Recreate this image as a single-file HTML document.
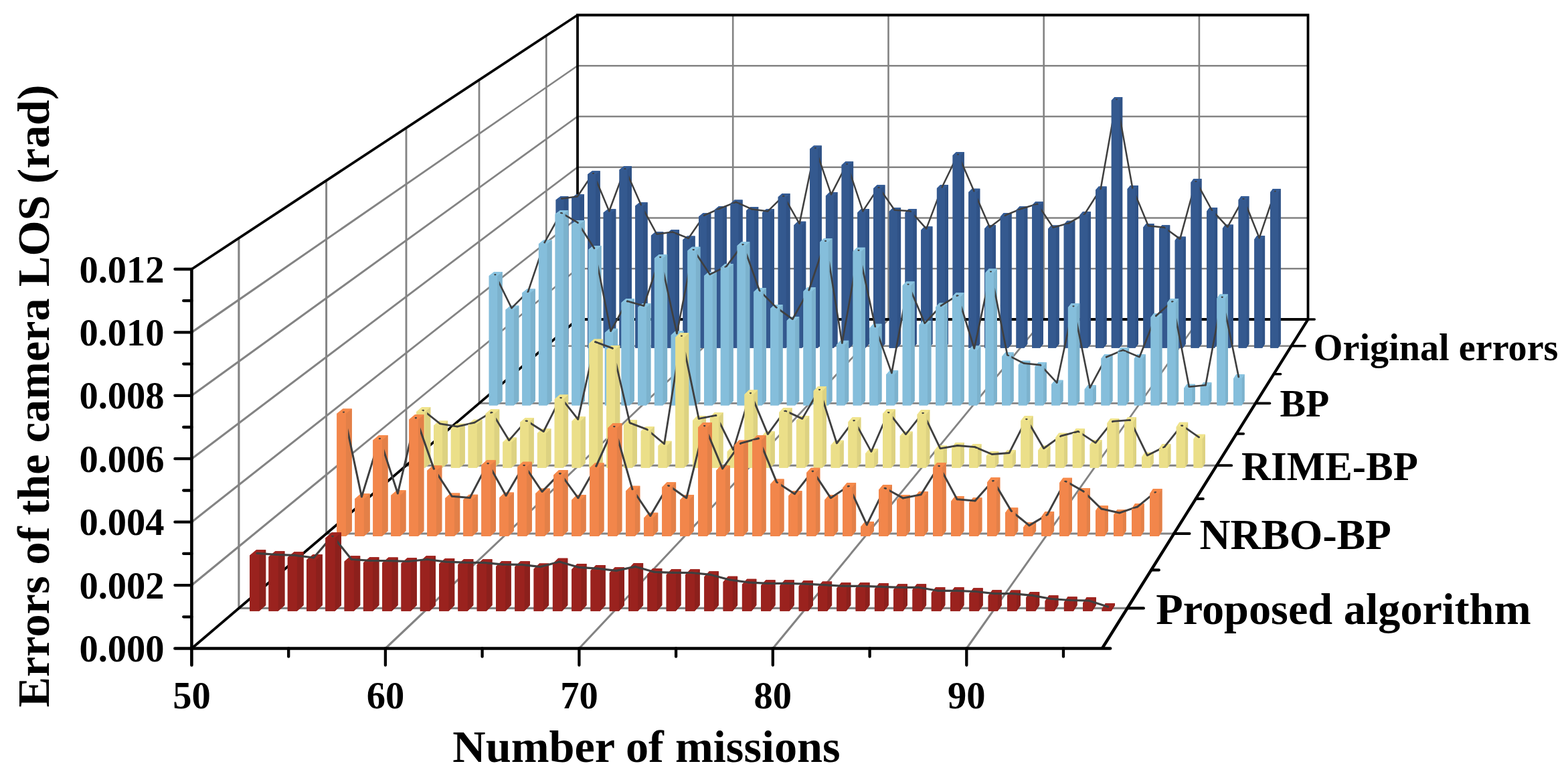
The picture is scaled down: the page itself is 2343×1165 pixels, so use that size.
<!DOCTYPE html>
<html lang="en">
<head>
<meta charset="utf-8">
<title>Errors of the camera LOS</title>
<style>html,body{margin:0;padding:0;background:#fff}body{width:2343px;height:1165px;overflow:hidden}svg{display:block}</style>
</head>
<body>
<svg width="2343" height="1165" viewBox="0 0 2343 1165" role="img" aria-label="3D bar chart: errors of the camera LOS versus number of missions">
<rect width="2343" height="1165" fill="#fff"/>
<path d="M863,98.2L1954.5,98.2M863,174L1954.5,174M863,249.7L1954.5,249.7M863,325.5L1954.5,325.5M863,401.2L1954.5,401.2M1095.2,22.5L1095.2,477M1327.5,22.5L1327.5,477M1559.7,22.5L1559.7,477M1791.9,22.5L1791.9,477" fill="none" stroke="#838383" stroke-width="2.6"/>
<path d="M285.5,495.1L862.3,97.2L863.7,99.3L287.4,497.7zM285.5,589.5L862.2,173L863.8,175L287.4,592.1zM285.5,684L862.2,248.7L863.8,250.8L287.4,686.5zM285.5,778.4L862.2,324.5L863.8,326.5L287.4,780.9zM285.4,872.8L862.2,400.3L863.8,402.2L287.5,875.3zM574.8,967.3L1094.4,476.1L1096.1,477.9L577,969.7zM864.2,967.4L1326.5,476.1L1328.4,477.9L866.5,969.6zM1153.6,967.5L1558.7,476.2L1560.7,477.8L1156.1,969.5zM1443,967.6L1790.9,476.3L1793,477.7L1445.6,969.4z" fill="#838383"/>
<path d="M816.3,53.2L816.3,516.8L1929.6,516.8" fill="none" stroke="#838383" stroke-width="2.62"/>
<path d="M716,119.2L716,602.3L1876.1,602.3" fill="none" stroke="#838383" stroke-width="2.73"/>
<path d="M607,191L607,695.2L1817.9,695.2" fill="none" stroke="#838383" stroke-width="2.85"/>
<path d="M487.6,269.6L487.6,797L1754.2,797" fill="none" stroke="#838383" stroke-width="2.98"/>
<path d="M356.9,355.6L356.9,908.4L1684.5,908.4" fill="none" stroke="#838383" stroke-width="3.12"/>
<path d="M863,477V22.5H1954.5V477M863,477H1954.5" fill="none" stroke="#000" stroke-width="3.8" stroke-linejoin="miter" stroke-linecap="square"/>
<path d="M285.4,400.4L862,20.9L864,24.1L287.5,403.6zM285.2,967L861.8,475.6L864.2,478.4L287.7,970z" fill="#000"/>
<path d="M830.6,519.8L842.4,519.8L849.4,513.8L849.4,293.3L837.6,293.3L830.6,298.6zM854.3,519.8L866.2,519.8L873,513.8L873,290.2L861.2,290.2L854.3,295.5zM878,519.8L889.9,519.8L896.7,513.8L896.7,255.2L884.9,255.2L878,260.4zM901.7,519.8L913.6,519.8L920.3,513.8L920.3,312.2L908.5,312.2L901.7,317.6zM925.5,519.8L937.3,519.8L944,513.8L944,248.3L932.2,248.3L925.5,253.5zM949.2,519.8L961.1,519.8L967.6,513.8L967.6,302.2L955.8,302.2L949.2,307.6zM972.9,519.8L984.8,519.8L991.3,513.8L991.3,346.2L979.5,346.2L972.9,351.7zM996.6,519.8L1008.5,519.8L1015,513.8L1015,343.1L1003.1,343.1L996.6,348.6zM1020.4,519.8L1032.2,519.8L1038.6,513.8L1038.6,352.5L1026.8,352.5L1020.4,358zM1044.1,519.8L1055.9,519.8L1062.3,513.8L1062.3,318.2L1050.4,318.2L1044.1,323.6zM1067.8,519.8L1079.7,519.8L1085.9,513.8L1085.9,307.9L1074.1,307.9L1067.8,313.3zM1091.5,519.8L1103.4,519.8L1109.6,513.8L1109.6,298.5L1097.7,298.5L1091.5,303.9zM1115.2,519.8L1127.1,519.8L1133.2,513.8L1133.2,309.1L1121.4,309.1L1115.2,314.5zM1139,519.8L1150.8,519.8L1156.9,513.8L1156.9,312.2L1145,312.2L1139,317.6zM1162.7,519.8L1174.5,519.8L1180.5,513.8L1180.5,289L1168.7,289L1162.7,294.3zM1186.4,519.8L1198.3,519.8L1204.2,513.8L1204.2,330.7L1192.3,330.7L1186.4,336.2zM1210.1,519.8L1222,519.8L1227.8,513.8L1227.8,217.5L1216,217.5L1210.1,222.6zM1233.9,519.8L1245.7,519.8L1251.5,513.8L1251.5,287.1L1239.6,287.1L1233.9,292.4zM1257.6,519.8L1269.4,519.8L1275.1,513.8L1275.1,241.2L1263.3,241.2L1257.6,246.4zM1281.3,519.8L1293.2,519.8L1298.8,513.8L1298.8,312L1286.9,312L1281.3,317.4zM1305,519.8L1316.9,519.8L1322.4,513.8L1322.4,276.3L1310.6,276.3L1305,281.6zM1328.7,519.8L1340.6,519.8L1346.1,513.8L1346.1,310.3L1334.3,310.3L1328.7,315.7zM1352.5,519.8L1364.3,519.8L1369.7,513.8L1369.7,312L1357.9,312L1352.5,317.4zM1376.2,519.8L1388,519.8L1393.4,513.8L1393.4,338.2L1381.6,338.2L1376.2,343.7zM1399.9,519.8L1411.8,519.8L1417,513.8L1417,276L1405.2,276L1399.9,281.3zM1423.6,519.8L1435.5,519.8L1440.7,513.8L1440.7,227L1428.9,227L1423.6,232.1zM1447.3,519.8L1459.2,519.8L1464.3,513.8L1464.3,281.8L1452.5,281.8L1447.3,287.1zM1471.1,519.8L1482.9,519.8L1488,513.8L1488,336L1476.2,336L1471.1,341.5zM1494.8,519.8L1506.7,519.8L1511.6,513.8L1511.6,318.1L1499.8,318.1L1494.8,323.5zM1518.5,519.8L1530.4,519.8L1535.3,513.8L1535.3,308.3L1523.5,308.3L1518.5,313.7zM1542.2,519.8L1554.1,519.8L1558.9,513.8L1558.9,301.2L1547.1,301.2L1542.2,306.6zM1566,519.8L1577.8,519.8L1582.6,513.8L1582.6,336.5L1570.8,336.5L1566,342zM1589.7,519.8L1601.5,519.8L1606.3,513.8L1606.3,329.8L1594.4,329.8L1589.7,335.3zM1613.4,519.8L1625.3,519.8L1629.9,513.8L1629.9,315.9L1618.1,315.9L1613.4,321.3zM1637.1,519.8L1649,519.8L1653.6,513.8L1653.6,278.5L1641.7,278.5L1637.1,283.8zM1660.8,519.8L1672.7,519.8L1677.2,513.8L1677.2,145L1665.4,145L1660.8,149.9zM1684.6,519.8L1696.4,519.8L1700.9,513.8L1700.9,277L1689,277L1684.6,282.3zM1708.3,519.8L1720.1,519.8L1724.5,513.8L1724.5,333.9L1712.7,333.9L1708.3,339.4zM1732,519.8L1743.9,519.8L1748.2,513.8L1748.2,336.3L1736.3,336.3L1732,341.8zM1755.7,519.8L1767.6,519.8L1771.8,513.8L1771.8,353.4L1760,353.4L1755.7,358.9zM1779.5,519.8L1791.3,519.8L1795.5,513.8L1795.5,267.1L1783.6,267.1L1779.5,272.4zM1803.2,519.8L1815,519.8L1819.1,513.8L1819.1,310.1L1807.3,310.1L1803.2,315.5zM1826.9,519.8L1838.8,519.8L1842.8,513.8L1842.8,335.6L1830.9,335.6L1826.9,341.1zM1850.6,519.8L1862.5,519.8L1866.4,513.8L1866.4,293.1L1854.6,293.1L1850.6,298.4zM1874.3,519.8L1886.2,519.8L1890.1,513.8L1890.1,352L1878.2,352L1874.3,357.5zM1898.1,519.8L1909.9,519.8L1913.7,513.8L1913.7,281.9L1901.9,281.9L1898.1,287.2z" fill="#34598f"/>
<path d="M842.4,519.8L849.4,513.8V293.3L842.4,298.6zM866.2,519.8L873,513.8V290.2L866.2,295.5zM889.9,519.8L896.7,513.8V255.2L889.9,260.4zM913.6,519.8L920.3,513.8V312.2L913.6,317.6zM937.3,519.8L944,513.8V248.3L937.3,253.5zM961.1,519.8L967.6,513.8V302.2L961.1,307.6zM984.8,519.8L991.3,513.8V346.2L984.8,351.7zM1008.5,519.8L1015,513.8V343.1L1008.5,348.6zM1032.2,519.8L1038.6,513.8V352.5L1032.2,358zM1055.9,519.8L1062.3,513.8V318.2L1055.9,323.6zM1079.7,519.8L1085.9,513.8V307.9L1079.7,313.3zM1103.4,519.8L1109.6,513.8V298.5L1103.4,303.9zM1127.1,519.8L1133.2,513.8V309.1L1127.1,314.5zM1150.8,519.8L1156.9,513.8V312.2L1150.8,317.6zM1174.5,519.8L1180.5,513.8V289L1174.5,294.3zM1198.3,519.8L1204.2,513.8V330.7L1198.3,336.2zM1222,519.8L1227.8,513.8V217.5L1222,222.6zM1245.7,519.8L1251.5,513.8V287.1L1245.7,292.4zM1269.4,519.8L1275.1,513.8V241.2L1269.4,246.4zM1293.2,519.8L1298.8,513.8V312L1293.2,317.4zM1316.9,519.8L1322.4,513.8V276.3L1316.9,281.6zM1340.6,519.8L1346.1,513.8V310.3L1340.6,315.7zM1364.3,519.8L1369.7,513.8V312L1364.3,317.4zM1388,519.8L1393.4,513.8V338.2L1388,343.7zM1411.8,519.8L1417,513.8V276L1411.8,281.3zM1435.5,519.8L1440.7,513.8V227L1435.5,232.1zM1459.2,519.8L1464.3,513.8V281.8L1459.2,287.1zM1482.9,519.8L1488,513.8V336L1482.9,341.5zM1506.7,519.8L1511.6,513.8V318.1L1506.7,323.5zM1530.4,519.8L1535.3,513.8V308.3L1530.4,313.7zM1554.1,519.8L1558.9,513.8V301.2L1554.1,306.6zM1577.8,519.8L1582.6,513.8V336.5L1577.8,342zM1601.5,519.8L1606.3,513.8V329.8L1601.5,335.3zM1625.3,519.8L1629.9,513.8V315.9L1625.3,321.3zM1649,519.8L1653.6,513.8V278.5L1649,283.8zM1672.7,519.8L1677.2,513.8V145L1672.7,149.9zM1696.4,519.8L1700.9,513.8V277L1696.4,282.3zM1720.1,519.8L1724.5,513.8V333.9L1720.1,339.4zM1743.9,519.8L1748.2,513.8V336.3L1743.9,341.8zM1767.6,519.8L1771.8,513.8V353.4L1767.6,358.9zM1791.3,519.8L1795.5,513.8V267.1L1791.3,272.4zM1815,519.8L1819.1,513.8V310.1L1815,315.5zM1838.8,519.8L1842.8,513.8V335.6L1838.8,341.1zM1862.5,519.8L1866.4,513.8V293.1L1862.5,298.4zM1886.2,519.8L1890.1,513.8V352L1886.2,357.5zM1909.9,519.8L1913.7,513.8V281.9L1909.9,287.2z" fill="#2f5286"/>
<path d="M830.6,298.6H842.4L849.4,293.3H837.6zM854.3,295.5H866.2L873,290.2H861.2zM878,260.4H889.9L896.7,255.2H884.9zM901.7,317.6H913.6L920.3,312.2H908.5zM925.5,253.5H937.3L944,248.3H932.2zM949.2,307.6H961.1L967.6,302.2H955.8zM972.9,351.7H984.8L991.3,346.2H979.5zM996.6,348.6H1008.5L1015,343.1H1003.1zM1020.4,358H1032.2L1038.6,352.5H1026.8zM1044.1,323.6H1055.9L1062.3,318.2H1050.4zM1067.8,313.3H1079.7L1085.9,307.9H1074.1zM1091.5,303.9H1103.4L1109.6,298.5H1097.7zM1115.2,314.5H1127.1L1133.2,309.1H1121.4zM1139,317.6H1150.8L1156.9,312.2H1145zM1162.7,294.3H1174.5L1180.5,289H1168.7zM1186.4,336.2H1198.3L1204.2,330.7H1192.3zM1210.1,222.6H1222L1227.8,217.5H1216zM1233.9,292.4H1245.7L1251.5,287.1H1239.6zM1257.6,246.4H1269.4L1275.1,241.2H1263.3zM1281.3,317.4H1293.2L1298.8,312H1286.9zM1305,281.6H1316.9L1322.4,276.3H1310.6zM1328.7,315.7H1340.6L1346.1,310.3H1334.3zM1352.5,317.4H1364.3L1369.7,312H1357.9zM1376.2,343.7H1388L1393.4,338.2H1381.6zM1399.9,281.3H1411.8L1417,276H1405.2zM1423.6,232.1H1435.5L1440.7,227H1428.9zM1447.3,287.1H1459.2L1464.3,281.8H1452.5zM1471.1,341.5H1482.9L1488,336H1476.2zM1494.8,323.5H1506.7L1511.6,318.1H1499.8zM1518.5,313.7H1530.4L1535.3,308.3H1523.5zM1542.2,306.6H1554.1L1558.9,301.2H1547.1zM1566,342H1577.8L1582.6,336.5H1570.8zM1589.7,335.3H1601.5L1606.3,329.8H1594.4zM1613.4,321.3H1625.3L1629.9,315.9H1618.1zM1637.1,283.8H1649L1653.6,278.5H1641.7zM1660.8,149.9H1672.7L1677.2,145H1665.4zM1684.6,282.3H1696.4L1700.9,277H1689zM1708.3,339.4H1720.1L1724.5,333.9H1712.7zM1732,341.8H1743.9L1748.2,336.3H1736.3zM1755.7,358.9H1767.6L1771.8,353.4H1760zM1779.5,272.4H1791.3L1795.5,267.1H1783.6zM1803.2,315.5H1815L1819.1,310.1H1807.3zM1826.9,341.1H1838.8L1842.8,335.6H1830.9zM1850.6,298.4H1862.5L1866.4,293.1H1854.6zM1874.3,357.5H1886.2L1890.1,352H1878.2zM1898.1,287.2H1909.9L1913.7,281.9H1901.9z" fill="#355c95"/>
<path d="M839,295.4L862.7,292.3L863,294.8L839.3,297.9zM861.8,292.8L880.6,265L880.6,269.5L863.9,294.2zM884.7,259.3L885.7,257.9L887.3,259L886.4,260.4zM887.4,258.1L888,259.5L886.2,260.2L885.6,258.8zM892.4,269.5L911.4,315.1L909.1,316L892.4,276zM909,315.1L928,264L928,271.2L911.4,316zM932.5,252.6L933,251.2L934.8,251.9L934.3,253.3zM934.8,251.2L935.4,252.6L933.6,253.4L933,252zM939.8,261.9L958.8,305L956.5,306.1L939.8,268.2zM958.5,305.1L959.2,306.5L957.5,307.4L956.7,306zM963.5,313.9L982.4,349L980.2,350.2L963.5,319.2zM981.1,348.4L1004.8,345.3L1005.2,347.8L981.5,350.9zM1005.5,345.4L1029.2,354.8L1028.2,357.1L1004.5,347.7zM1027.7,355.2L1046.5,328L1046.5,332.4L1029.7,356.7zM1050.6,322.4L1051.6,321L1053.2,322.1L1052.2,323.5zM1051.9,320.4L1075.6,310.1L1076.6,312.4L1052.9,322.7zM1075.6,310.1L1099.3,300.7L1100.2,303L1076.5,312.4zM1100.3,300.7L1124,311.3L1123,313.6L1099.3,303zM1123.6,311.2L1147.3,314.3L1147,316.8L1123.3,313.7zM1146.3,314.7L1164.9,296.4L1164.9,299.9L1148,316.5zM1168.7,293L1170.2,291.6L1171.6,293L1170.1,294.4zM1171.7,291.8L1172.5,293.2L1170.8,294.2L1170,292.8zM1176.8,300.2L1195.6,333.5L1193.5,334.7L1176.8,305.3zM1193.3,333.8L1212.3,242.9L1212.3,255.2L1195.8,334.4zM1217,221.9L1217.3,220.5L1219.2,220.9L1218.9,222.3zM1219.2,220.4L1219.7,221.8L1217.8,222.4L1217.3,221zM1224.2,234.2L1243.1,290L1240.8,290.8L1224.2,242zM1240.8,289.9L1259.7,253.2L1259.7,258.7L1243.1,291zM1264,245.4L1264.8,244L1266.5,244.9L1265.8,246.3zM1266.6,244.1L1267.1,245.5L1265.2,246.2L1264.7,244.8zM1271.6,258.2L1290.5,315L1288.2,315.8L1271.6,266.1zM1288.3,314.7L1307.1,286.3L1307.1,290.8L1290.4,316.1zM1311.3,280.5L1312.2,279.1L1313.9,280.2L1312.9,281.6zM1313.9,279L1314.8,280.4L1313.2,281.6L1312.2,280.2zM1319,285.9L1337.8,313L1335.7,314.4L1319,290.3zM1336.8,312.4L1360.5,314.1L1360.3,316.6L1336.6,314.9zM1361.2,314.7L1362.4,316.1L1361,317.4L1359.7,316zM1366.4,320.1L1385.1,340.8L1383.2,342.5L1366.4,323.8zM1383,341.2L1401.9,291.4L1401.9,298.4L1385.3,342.1zM1406.4,280.3L1406.9,278.9L1408.8,279.7L1408.2,281.1zM1406.7,278.8L1425.6,239.6L1425.6,245.4L1408.9,279.8zM1429.9,231.2L1430.6,229.8L1432.4,230.6L1431.7,232zM1432.4,229.8L1433,231.2L1431.2,232L1430.6,230.6zM1437.4,240.8L1456.4,284.6L1454.1,285.6L1437.4,247.1zM1456.1,284.7L1456.7,286.1L1454.9,286.9L1454.3,285.5zM1461.1,295.6L1480.1,338.9L1477.8,339.9L1461.1,301.8zM1478.2,338.4L1496.7,324.4L1496.7,327.5L1479.7,340.4zM1500.1,322.1L1502,320.7L1503.2,322.3L1501.4,323.7zM1502.1,320.3L1525.8,310.5L1526.8,312.8L1503.1,322.6zM1525.9,310.5L1549.6,303.4L1550.4,305.7L1526.7,312.9zM1550.8,304L1551.8,305.4L1550.1,306.5L1549.2,305.1zM1555.9,311.1L1574.7,339.2L1572.7,340.6L1555.9,315.6zM1573.3,338.7L1597,332L1597.7,334.4L1574,341.1zM1596.8,332.1L1615.2,321.3L1615.2,324.2L1598,334.3zM1618.2,319.8L1620.6,318.4L1621.6,320.1L1619.2,321.5zM1620,318.6L1638.9,288.8L1638.9,293.5L1622.1,319.9zM1643,282.7L1643.9,281.3L1645.6,282.3L1644.7,283.7zM1643.5,281.6L1662.5,174.3L1662.5,188.7L1646,282zM1667.2,149.3L1667.5,147.9L1669.5,148.2L1669.2,149.6zM1669.5,147.9L1669.7,149.3L1667.7,149.6L1667.5,148.2zM1674.4,174L1693.4,280.1L1690.9,280.5L1674.4,188.2zM1693.1,279.9L1693.7,281.3L1691.8,282.1L1691.2,280.7zM1698.1,291.3L1717,336.8L1714.7,337.8L1698.1,297.8zM1716,336.1L1739.7,338.5L1739.4,341L1715.7,338.6zM1740.1,338.9L1742.1,340.3L1740.9,341.9L1739,340.5zM1745.5,342.5L1764,355.8L1762.5,357.9L1745.5,345.5zM1762,356.5L1781,287.3L1781,296.7L1764.5,357.2zM1785.6,271.5L1786,270.1L1787.9,270.7L1787.5,272.1zM1787.8,269.9L1788.6,271.3L1786.8,272.3L1786.1,270.9zM1792.9,278.6L1811.7,312.9L1809.5,314.1L1792.9,283.8zM1811.4,312.8L1812.7,314.2L1811.2,315.5L1809.9,314.1zM1816.6,318L1835.3,338.2L1833.4,339.9L1816.6,321.7zM1833.2,338.4L1852.1,304.5L1852.1,309.7L1835.4,339.6zM1856.4,297.3L1857.2,295.9L1858.9,296.9L1858.1,298.3zM1859,296.1L1859.5,297.5L1857.7,298.2L1857.1,296.8zM1864,307.8L1882.9,355L1880.6,355.9L1864,314.5zM1880.5,355L1899.5,298.9L1899.5,306.7L1882.9,355.8zM1904,286.3L1904.5,284.9L1906.4,285.5L1905.9,286.9z" fill="#3f3f3f"/>
<path d="M837.9,296.6a1.25,1.25 0 1 0 2.50,0a1.25,1.25 0 1 0 -2.50,0zM861.6,293.5a1.25,1.25 0 1 0 2.50,0a1.25,1.25 0 1 0 -2.50,0zM909,315.6a1.25,1.25 0 1 0 2.50,0a1.25,1.25 0 1 0 -2.50,0zM956.4,305.6a1.25,1.25 0 1 0 2.50,0a1.25,1.25 0 1 0 -2.50,0zM980.1,349.6a1.25,1.25 0 1 0 2.50,0a1.25,1.25 0 1 0 -2.50,0zM1003.7,346.5a1.25,1.25 0 1 0 2.50,0a1.25,1.25 0 1 0 -2.50,0zM1027.4,355.9a1.25,1.25 0 1 0 2.50,0a1.25,1.25 0 1 0 -2.50,0zM1051.1,321.6a1.25,1.25 0 1 0 2.50,0a1.25,1.25 0 1 0 -2.50,0zM1074.8,311.3a1.25,1.25 0 1 0 2.50,0a1.25,1.25 0 1 0 -2.50,0zM1098.5,301.8a1.25,1.25 0 1 0 2.50,0a1.25,1.25 0 1 0 -2.50,0zM1122.2,312.5a1.25,1.25 0 1 0 2.50,0a1.25,1.25 0 1 0 -2.50,0zM1145.9,315.6a1.25,1.25 0 1 0 2.50,0a1.25,1.25 0 1 0 -2.50,0zM1193.3,334.1a1.25,1.25 0 1 0 2.50,0a1.25,1.25 0 1 0 -2.50,0zM1240.7,290.4a1.25,1.25 0 1 0 2.50,0a1.25,1.25 0 1 0 -2.50,0zM1288.1,315.4a1.25,1.25 0 1 0 2.50,0a1.25,1.25 0 1 0 -2.50,0zM1335.5,313.7a1.25,1.25 0 1 0 2.50,0a1.25,1.25 0 1 0 -2.50,0zM1359.2,315.4a1.25,1.25 0 1 0 2.50,0a1.25,1.25 0 1 0 -2.50,0zM1382.9,341.6a1.25,1.25 0 1 0 2.50,0a1.25,1.25 0 1 0 -2.50,0zM1406.6,279.3a1.25,1.25 0 1 0 2.50,0a1.25,1.25 0 1 0 -2.50,0zM1454,285.1a1.25,1.25 0 1 0 2.50,0a1.25,1.25 0 1 0 -2.50,0zM1477.7,339.4a1.25,1.25 0 1 0 2.50,0a1.25,1.25 0 1 0 -2.50,0zM1501.4,321.5a1.25,1.25 0 1 0 2.50,0a1.25,1.25 0 1 0 -2.50,0zM1525,311.7a1.25,1.25 0 1 0 2.50,0a1.25,1.25 0 1 0 -2.50,0zM1548.7,304.6a1.25,1.25 0 1 0 2.50,0a1.25,1.25 0 1 0 -2.50,0zM1572.4,339.9a1.25,1.25 0 1 0 2.50,0a1.25,1.25 0 1 0 -2.50,0zM1596.1,333.2a1.25,1.25 0 1 0 2.50,0a1.25,1.25 0 1 0 -2.50,0zM1619.8,319.3a1.25,1.25 0 1 0 2.50,0a1.25,1.25 0 1 0 -2.50,0zM1643.5,281.8a1.25,1.25 0 1 0 2.50,0a1.25,1.25 0 1 0 -2.50,0zM1690.9,280.3a1.25,1.25 0 1 0 2.50,0a1.25,1.25 0 1 0 -2.50,0zM1714.6,337.3a1.25,1.25 0 1 0 2.50,0a1.25,1.25 0 1 0 -2.50,0zM1738.3,339.7a1.25,1.25 0 1 0 2.50,0a1.25,1.25 0 1 0 -2.50,0zM1762,356.8a1.25,1.25 0 1 0 2.50,0a1.25,1.25 0 1 0 -2.50,0zM1809.4,313.5a1.25,1.25 0 1 0 2.50,0a1.25,1.25 0 1 0 -2.50,0zM1833.1,339a1.25,1.25 0 1 0 2.50,0a1.25,1.25 0 1 0 -2.50,0zM1880.5,355.4a1.25,1.25 0 1 0 2.50,0a1.25,1.25 0 1 0 -2.50,0z" fill="#3f3f3f"/>
<path d="M885.1,258.7h2.8M932.5,251.8h2.8M1169.5,292.5h2.8M1216.9,220.9h2.8M1264.2,244.6h2.8M1311.6,279.8h2.8M1430.1,230.4h2.8M1667.1,148.3h2.8M1785.5,270.6h2.8M1856.6,296.6h2.8M1904,285.4h2.8" fill="none" stroke="#3f3f3f" stroke-width="1.3"/>
<path d="M830.6,519.8H842.4V298.6H830.6zM854.3,519.8H866.2V295.5H854.3zM878,519.8H889.9V260.4H878zM901.7,519.8H913.6V317.6H901.7zM925.5,519.8H937.3V253.5H925.5zM949.2,519.8H961.1V307.6H949.2zM972.9,519.8H984.8V351.7H972.9zM996.6,519.8H1008.5V348.6H996.6zM1020.4,519.8H1032.2V358H1020.4zM1044.1,519.8H1055.9V323.6H1044.1zM1067.8,519.8H1079.7V313.3H1067.8zM1091.5,519.8H1103.4V303.9H1091.5zM1115.2,519.8H1127.1V314.5H1115.2zM1139,519.8H1150.8V317.6H1139zM1162.7,519.8H1174.5V294.3H1162.7zM1186.4,519.8H1198.3V336.2H1186.4zM1210.1,519.8H1222V222.6H1210.1zM1233.9,519.8H1245.7V292.4H1233.9zM1257.6,519.8H1269.4V246.4H1257.6zM1281.3,519.8H1293.2V317.4H1281.3zM1305,519.8H1316.9V281.6H1305zM1328.7,519.8H1340.6V315.7H1328.7zM1352.5,519.8H1364.3V317.4H1352.5zM1376.2,519.8H1388V343.7H1376.2zM1399.9,519.8H1411.8V281.3H1399.9zM1423.6,519.8H1435.5V232.1H1423.6zM1447.3,519.8H1459.2V287.1H1447.3zM1471.1,519.8H1482.9V341.5H1471.1zM1494.8,519.8H1506.7V323.5H1494.8zM1518.5,519.8H1530.4V313.7H1518.5zM1542.2,519.8H1554.1V306.6H1542.2zM1566,519.8H1577.8V342H1566zM1589.7,519.8H1601.5V335.3H1589.7zM1613.4,519.8H1625.3V321.3H1613.4zM1637.1,519.8H1649V283.8H1637.1zM1660.8,519.8H1672.7V149.9H1660.8zM1684.6,519.8H1696.4V282.3H1684.6zM1708.3,519.8H1720.1V339.4H1708.3zM1732,519.8H1743.9V341.8H1732zM1755.7,519.8H1767.6V358.9H1755.7zM1779.5,519.8H1791.3V272.4H1779.5zM1803.2,519.8H1815V315.5H1803.2zM1826.9,519.8H1838.8V341.1H1826.9zM1850.6,519.8H1862.5V298.4H1850.6zM1874.3,519.8H1886.2V357.5H1874.3zM1898.1,519.8H1909.9V287.2H1898.1z" fill="#34598f"/>
<path d="M730.7,605.6L743.1,605.6L750.6,599.1L750.6,406.1L738.3,406.1L730.7,412zM755.5,605.6L767.8,605.6L775.3,599.1L775.3,456.4L763,456.4L755.5,462.5zM780.2,605.6L792.5,605.6L799.9,599.1L799.9,431.6L787.6,431.6L780.2,437.6zM804.9,605.6L817.3,605.6L824.6,599.1L824.6,358.4L812.2,358.4L804.9,364.2zM829.6,605.6L842,605.6L849.2,599.1L849.2,314.2L836.9,314.2L829.6,319.8zM854.3,605.6L866.7,605.6L873.9,599.1L873.9,328.9L861.5,328.9L854.3,334.6zM879.1,605.6L891.4,605.6L898.5,599.1L898.5,367.1L886.2,367.1L879.1,372.9zM903.8,605.6L916.1,605.6L923.1,599.1L923.1,490.8L910.8,490.8L903.8,497zM928.5,605.6L940.9,605.6L947.8,599.1L947.8,446L935.5,446L928.5,452zM953.2,605.6L965.6,605.6L972.4,599.1L972.4,453L960.1,453L953.2,459.1zM977.9,605.6L990.3,605.6L997.1,599.1L997.1,380L984.8,380L977.9,385.8zM1002.7,605.6L1015,605.6L1021.7,599.1L1021.7,494.3L1009.4,494.3L1002.7,500.5zM1027.4,605.6L1039.7,605.6L1046.4,599.1L1046.4,368.8L1034,368.8L1027.4,374.6zM1052.1,605.6L1064.5,605.6L1071,599.1L1071,406.2L1058.7,406.2L1052.1,412.1zM1076.8,605.6L1089.2,605.6L1095.7,599.1L1095.7,394.1L1083.3,394.1L1076.8,400zM1101.5,605.6L1113.9,605.6L1120.3,599.1L1120.3,361.2L1108,361.2L1101.5,367zM1126.3,605.6L1138.6,605.6L1144.9,599.1L1144.9,430.1L1132.6,430.1L1126.3,436.1zM1151,605.6L1163.3,605.6L1169.6,599.1L1169.6,455L1157.3,455L1151,461.1zM1175.7,605.6L1188.1,605.6L1194.2,599.1L1194.2,472.9L1181.9,472.9L1175.7,479zM1200.4,605.6L1212.8,605.6L1218.9,599.1L1218.9,429.2L1206.6,429.2L1200.4,435.2zM1225.1,605.6L1237.5,605.6L1243.5,599.1L1243.5,355.9L1231.2,355.9L1225.1,361.7zM1249.9,605.6L1262.2,605.6L1268.2,599.1L1268.2,508.7L1255.8,508.7L1249.9,514.9zM1274.6,605.6L1286.9,605.6L1292.8,599.1L1292.8,369.7L1280.5,369.7L1274.6,375.5zM1299.3,605.6L1311.7,605.6L1317.5,599.1L1317.5,483.7L1305.1,483.7L1299.3,489.9zM1324,605.6L1336.4,605.6L1342.1,599.1L1342.1,553.2L1329.8,553.2L1324,559.6zM1348.7,605.6L1361.1,605.6L1366.7,599.1L1366.7,420.5L1354.4,420.5L1348.7,426.5zM1373.5,605.6L1385.8,605.6L1391.4,599.1L1391.4,479L1379.1,479L1373.5,485.1zM1398.2,605.6L1410.5,605.6L1416,599.1L1416,452.5L1403.7,452.5L1398.2,458.6zM1422.9,605.6L1435.3,605.6L1440.7,599.1L1440.7,437.3L1428.4,437.3L1422.9,443.3zM1447.6,605.6L1460,605.6L1465.3,599.1L1465.3,516.6L1453,516.6L1447.6,522.9zM1472.3,605.6L1484.7,605.6L1490,599.1L1490,401.5L1477.6,401.5L1472.3,407.4zM1497.1,605.6L1509.4,605.6L1514.6,599.1L1514.6,526.3L1502.3,526.3L1497.1,532.6zM1521.8,605.6L1534.1,605.6L1539.3,599.1L1539.3,538.7L1526.9,538.7L1521.8,545zM1546.5,605.6L1558.9,605.6L1563.9,599.1L1563.9,541.1L1551.6,541.1L1546.5,547.4zM1571.2,605.6L1583.6,605.6L1588.5,599.1L1588.5,567.7L1576.2,567.7L1571.2,574.1zM1595.9,605.6L1608.3,605.6L1613.2,599.1L1613.2,453.1L1600.9,453.1L1595.9,459.2zM1620.7,605.6L1633,605.6L1637.8,599.1L1637.8,575.2L1625.5,575.2L1620.7,581.6zM1645.4,605.6L1657.7,605.6L1662.5,599.1L1662.5,529.2L1650.2,529.2L1645.4,535.5zM1670.1,605.6L1682.5,605.6L1687.1,599.1L1687.1,519L1674.8,519L1670.1,525.3zM1694.8,605.6L1707.2,605.6L1711.8,599.1L1711.8,529.2L1699.4,529.2L1694.8,535.5zM1719.5,605.6L1731.9,605.6L1736.4,599.1L1736.4,467.9L1724.1,467.9L1719.5,474zM1744.3,605.6L1756.6,605.6L1761.1,599.1L1761.1,446.1L1748.7,446.1L1744.3,452.1zM1769,605.6L1781.3,605.6L1785.7,599.1L1785.7,573.7L1773.4,573.7L1769,580.1zM1793.7,605.6L1806.1,605.6L1810.3,599.1L1810.3,571.3L1798,571.3L1793.7,577.7zM1818.4,605.6L1830.8,605.6L1835,599.1L1835,439.5L1822.7,439.5L1818.4,445.5zM1843.1,605.6L1855.5,605.6L1859.6,599.1L1859.6,559.1L1847.3,559.1L1843.1,565.5z" fill="#85bedb"/>
<path d="M743.1,605.6L750.6,599.1V406.1L743.1,412zM767.8,605.6L775.3,599.1V456.4L767.8,462.5zM792.5,605.6L799.9,599.1V431.6L792.5,437.6zM817.3,605.6L824.6,599.1V358.4L817.3,364.2zM842,605.6L849.2,599.1V314.2L842,319.8zM866.7,605.6L873.9,599.1V328.9L866.7,334.6zM891.4,605.6L898.5,599.1V367.1L891.4,372.9zM916.1,605.6L923.1,599.1V490.8L916.1,497zM940.9,605.6L947.8,599.1V446L940.9,452zM965.6,605.6L972.4,599.1V453L965.6,459.1zM990.3,605.6L997.1,599.1V380L990.3,385.8zM1015,605.6L1021.7,599.1V494.3L1015,500.5zM1039.7,605.6L1046.4,599.1V368.8L1039.7,374.6zM1064.5,605.6L1071,599.1V406.2L1064.5,412.1zM1089.2,605.6L1095.7,599.1V394.1L1089.2,400zM1113.9,605.6L1120.3,599.1V361.2L1113.9,367zM1138.6,605.6L1144.9,599.1V430.1L1138.6,436.1zM1163.3,605.6L1169.6,599.1V455L1163.3,461.1zM1188.1,605.6L1194.2,599.1V472.9L1188.1,479zM1212.8,605.6L1218.9,599.1V429.2L1212.8,435.2zM1237.5,605.6L1243.5,599.1V355.9L1237.5,361.7zM1262.2,605.6L1268.2,599.1V508.7L1262.2,514.9zM1286.9,605.6L1292.8,599.1V369.7L1286.9,375.5zM1311.7,605.6L1317.5,599.1V483.7L1311.7,489.9zM1336.4,605.6L1342.1,599.1V553.2L1336.4,559.6zM1361.1,605.6L1366.7,599.1V420.5L1361.1,426.5zM1385.8,605.6L1391.4,599.1V479L1385.8,485.1zM1410.5,605.6L1416,599.1V452.5L1410.5,458.6zM1435.3,605.6L1440.7,599.1V437.3L1435.3,443.3zM1460,605.6L1465.3,599.1V516.6L1460,522.9zM1484.7,605.6L1490,599.1V401.5L1484.7,407.4zM1509.4,605.6L1514.6,599.1V526.3L1509.4,532.6zM1534.1,605.6L1539.3,599.1V538.7L1534.1,545zM1558.9,605.6L1563.9,599.1V541.1L1558.9,547.4zM1583.6,605.6L1588.5,599.1V567.7L1583.6,574.1zM1608.3,605.6L1613.2,599.1V453.1L1608.3,459.2zM1633,605.6L1637.8,599.1V575.2L1633,581.6zM1657.7,605.6L1662.5,599.1V529.2L1657.7,535.5zM1682.5,605.6L1687.1,599.1V519L1682.5,525.3zM1707.2,605.6L1711.8,599.1V529.2L1707.2,535.5zM1731.9,605.6L1736.4,599.1V467.9L1731.9,474zM1756.6,605.6L1761.1,599.1V446.1L1756.6,452.1zM1781.3,605.6L1785.7,599.1V573.7L1781.3,580.1zM1806.1,605.6L1810.3,599.1V571.3L1806.1,577.7zM1830.8,605.6L1835,599.1V439.5L1830.8,445.5zM1855.5,605.6L1859.6,599.1V559.1L1855.5,565.5z" fill="#7cb2cd"/>
<path d="M730.7,412H743.1L750.6,406.1H738.3zM755.5,462.5H767.8L775.3,456.4H763zM780.2,437.6H792.5L799.9,431.6H787.6zM804.9,364.2H817.3L824.6,358.4H812.2zM829.6,319.8H842L849.2,314.2H836.9zM854.3,334.6H866.7L873.9,328.9H861.5zM879.1,372.9H891.4L898.5,367.1H886.2zM903.8,497H916.1L923.1,490.8H910.8zM928.5,452H940.9L947.8,446H935.5zM953.2,459.1H965.6L972.4,453H960.1zM977.9,385.8H990.3L997.1,380H984.8zM1002.7,500.5H1015L1021.7,494.3H1009.4zM1027.4,374.6H1039.7L1046.4,368.8H1034zM1052.1,412.1H1064.5L1071,406.2H1058.7zM1076.8,400H1089.2L1095.7,394.1H1083.3zM1101.5,367H1113.9L1120.3,361.2H1108zM1126.3,436.1H1138.6L1144.9,430.1H1132.6zM1151,461.1H1163.3L1169.6,455H1157.3zM1175.7,479H1188.1L1194.2,472.9H1181.9zM1200.4,435.2H1212.8L1218.9,429.2H1206.6zM1225.1,361.7H1237.5L1243.5,355.9H1231.2zM1249.9,514.9H1262.2L1268.2,508.7H1255.8zM1274.6,375.5H1286.9L1292.8,369.7H1280.5zM1299.3,489.9H1311.7L1317.5,483.7H1305.1zM1324,559.6H1336.4L1342.1,553.2H1329.8zM1348.7,426.5H1361.1L1366.7,420.5H1354.4zM1373.5,485.1H1385.8L1391.4,479H1379.1zM1398.2,458.6H1410.5L1416,452.5H1403.7zM1422.9,443.3H1435.3L1440.7,437.3H1428.4zM1447.6,522.9H1460L1465.3,516.6H1453zM1472.3,407.4H1484.7L1490,401.5H1477.6zM1497.1,532.6H1509.4L1514.6,526.3H1502.3zM1521.8,545H1534.1L1539.3,538.7H1526.9zM1546.5,547.4H1558.9L1563.9,541.1H1551.6zM1571.2,574.1H1583.6L1588.5,567.7H1576.2zM1595.9,459.2H1608.3L1613.2,453.1H1600.9zM1620.7,581.6H1633L1637.8,575.2H1625.5zM1645.4,535.5H1657.7L1662.5,529.2H1650.2zM1670.1,525.3H1682.5L1687.1,519H1674.8zM1694.8,535.5H1707.2L1711.8,529.2H1699.4zM1719.5,474H1731.9L1736.4,467.9H1724.1zM1744.3,452.1H1756.6L1761.1,446.1H1748.7zM1769,580.1H1781.3L1785.7,573.7H1773.4zM1793.7,577.7H1806.1L1810.3,571.3H1798zM1818.4,445.5H1830.8L1835,439.5H1822.7zM1843.1,565.5H1855.5L1859.6,559.1H1847.3z" fill="#8ac4e1"/>
<path d="M740.7,409.3L741.4,410.7L739.5,411.7L738.8,410.3zM745.9,419.4L765.6,459.6L763.3,460.8L745.9,425.4zM763.5,459.3L783,439.7L783,443.4L765.4,461.1zM787,436L788.4,434.6L789.9,436.1L788.5,437.5zM787.9,434.9L807.7,376.2L807.7,384.5L790.4,435.8zM812.4,363.1L812.8,361.7L814.8,362.3L814.4,363.7zM812.7,361.4L832.3,326.1L832.3,331.5L815,362.6zM836.8,318.6L837.6,317.2L839.4,318.2L838.7,319.6zM839.1,316.8L841.4,318.2L840.3,320L838,318.6zM844.7,319.9L863.9,331.3L862.5,333.6L844.7,322.9zM864.1,331.9L865,333.3L863.2,334.4L862.3,333zM869.4,339.6L889,370L886.8,371.4L869.4,344.5zM888.9,370.5L889.2,371.9L887.1,372.3L886.9,370.9zM894.1,394.9L913.9,494.4L911.3,494.9L894.1,408.5zM911.4,494L931.1,458.2L931.1,463.7L913.8,495.3zM935.6,450.7L936.4,449.3L938.2,450.3L937.4,451.7zM937.7,448.5L962.3,455.5L961.6,458.1L936.9,451zM960.7,456.4L980.5,397.8L980.5,406.1L963.2,457.2zM985.2,384.7L985.7,383.3L987.7,384L987.2,385.4zM987.7,383.4L988,384.8L985.9,385.3L985.6,383.9zM992.8,406L1012.7,497.9L1010.1,498.4L992.8,418.6zM1010.1,497.9L1029.9,397L1029.9,410.7L1012.7,498.4zM1034.7,373.6L1035,372.2L1037.1,372.6L1036.8,374zM1036.9,371.8L1037.9,373.2L1036.1,374.4L1035.2,373zM1042.2,379.4L1061.9,409.2L1059.6,410.6L1042.2,384.2zM1060.2,408.7L1079.3,399.3L1079.3,402.3L1061.3,411.1zM1082.1,398.2L1085,396.8L1085.9,398.7L1083.1,400.1zM1084.4,397L1104,370.8L1104,375.3L1086.5,398.6zM1108.2,365.6L1109.3,364.2L1111,365.4L1109.9,366.8zM1111.1,364.4L1111.6,365.8L1109.6,366.6L1109.1,365.2zM1116.3,378.1L1136.1,433.4L1133.6,434.3L1116.3,386zM1135.6,433.1L1137,434.5L1135.5,436L1134.1,434.6zM1141,438.2L1160.5,457.9L1158.6,459.7L1141,442zM1160.1,457.9L1162.1,459.3L1160.8,461L1158.9,459.6zM1165.7,461.6L1185,475.6L1183.4,477.8L1165.7,464.9zM1183,476.1L1202.7,441.2L1202.7,446.6L1185.4,477.4zM1207.2,433.8L1208,432.4L1209.8,433.5L1209,434.9zM1207.6,432.5L1227.4,373.7L1227.4,382L1210.2,433.4zM1232.1,360.6L1232.6,359.2L1234.6,359.8L1234.1,361.2zM1234.6,359.3L1234.9,360.7L1232.8,361.1L1232.5,359.7zM1239.8,389.4L1259.6,512.4L1257,512.8L1239.8,406.1zM1257,512.4L1276.8,400.5L1276.8,415.7L1259.6,512.8zM1281.7,374.5L1281.9,373.1L1284,373.5L1283.8,374.9zM1284,373.1L1284.3,374.5L1282.2,374.9L1281.9,373.5zM1289.1,395.6L1309,487.3L1306.4,487.8L1289.1,408.2zM1308.7,487.2L1309.2,488.6L1307.2,489.3L1306.7,487.9zM1313.8,501L1333.6,556.7L1331.1,557.6L1313.8,508.9zM1331,556.9L1350.9,450.2L1350.9,464.7L1333.7,557.4zM1355.7,425.4L1356,424L1358.1,424.4L1357.8,425.8zM1358,423.8L1358.6,425.2L1356.7,426L1356.1,424.6zM1363.2,435.5L1383,482.3L1380.5,483.3L1363.2,442.3zM1380.8,481.9L1400.3,461L1400.3,464.9L1382.7,483.7zM1404.4,457L1405.7,455.6L1407.2,457L1405.9,458.4zM1405.7,455.2L1424.9,443.3L1424.9,446.4L1407.1,457.4zM1428.3,441.5L1430.6,440.1L1431.7,442L1429.4,443.4zM1432.1,440.7L1432.6,442.1L1430.5,442.8L1430.1,441.4zM1437.3,456.4L1457.1,520.1L1454.5,520.9L1437.3,465.4zM1454.5,520.2L1474.3,427.7L1474.3,440.4L1457.1,520.8zM1479.2,406.4L1479.5,405L1481.5,405.4L1481.2,406.8zM1481.5,405L1481.8,406.4L1479.7,406.8L1479.5,405.4zM1486.7,429.6L1506.5,530L1503.9,530.5L1486.7,443.3zM1505.7,529.3L1508.5,530.7L1507.5,532.6L1504.7,531.2zM1511.4,531.8L1530.5,541.5L1529.3,543.8L1511.4,534.8zM1530,541.3L1554.7,543.7L1554.5,546.4L1529.8,544zM1555.4,544.3L1556.7,545.7L1555.1,547.2L1553.8,545.8zM1560.8,549.8L1580.2,570.8L1578.3,572.6L1560.8,553.7zM1578,571.4L1597.8,479.3L1597.8,491.9L1580.6,572zM1602.6,458.1L1602.9,456.7L1605,457.1L1604.7,458.5zM1605,456.7L1605.3,458.1L1603.2,458.5L1602.9,457.1zM1610.1,480.8L1630,579L1627.4,579.5L1610.1,494.2zM1627.5,578.6L1647.2,541.8L1647.2,547.5L1629.8,579.8zM1651.7,534L1652.4,532.6L1654.3,533.6L1653.5,535zM1652.8,531.9L1677.5,521.7L1678.5,524.1L1653.9,534.4zM1678.5,521.7L1703.2,531.9L1702.2,534.4L1677.5,524.1zM1701.5,532.6L1721.2,483.5L1721.2,490.6L1704,533.6zM1725.9,472.7L1726.4,471.3L1728.4,472.1L1727.8,473.5zM1726.5,470.7L1745.9,453.6L1745.9,457.1L1728.3,472.7zM1749.8,450.5L1751.4,449.1L1752.8,450.7L1751.2,452.1zM1753.2,449.7L1753.4,451.1L1751.3,451.5L1751.1,450.1zM1758.3,474.8L1778.1,577.5L1775.5,578L1758.3,488.8zM1776.7,576.4L1801.4,574L1801.6,576.6L1776.9,579zM1800.2,575.1L1820,469L1820,483.5L1802.8,575.6zM1824.9,444.5L1825.1,443.1L1827.2,443.5L1827,444.9zM1827.2,443L1827.5,444.4L1825.4,444.9L1825.1,443.5zM1832.4,466.6L1852.2,562.8L1849.6,563.4L1832.4,479.8z" fill="#3f3f3f"/>
<path d="M763.1,460.2a1.33,1.33 0 1 0 2.66,0a1.33,1.33 0 1 0 -2.66,0zM787.8,435.3a1.33,1.33 0 1 0 2.66,0a1.33,1.33 0 1 0 -2.66,0zM812.5,362a1.33,1.33 0 1 0 2.66,0a1.33,1.33 0 1 0 -2.66,0zM861.9,332.4a1.33,1.33 0 1 0 2.66,0a1.33,1.33 0 1 0 -2.66,0zM886.6,370.7a1.33,1.33 0 1 0 2.66,0a1.33,1.33 0 1 0 -2.66,0zM911.3,494.7a1.33,1.33 0 1 0 2.66,0a1.33,1.33 0 1 0 -2.66,0zM936,449.8a1.33,1.33 0 1 0 2.66,0a1.33,1.33 0 1 0 -2.66,0zM960.7,456.8a1.33,1.33 0 1 0 2.66,0a1.33,1.33 0 1 0 -2.66,0zM1010,498.2a1.33,1.33 0 1 0 2.66,0a1.33,1.33 0 1 0 -2.66,0zM1059.4,409.9a1.33,1.33 0 1 0 2.66,0a1.33,1.33 0 1 0 -2.66,0zM1084.1,397.8a1.33,1.33 0 1 0 2.66,0a1.33,1.33 0 1 0 -2.66,0zM1133.5,433.8a1.33,1.33 0 1 0 2.66,0a1.33,1.33 0 1 0 -2.66,0zM1158.2,458.8a1.33,1.33 0 1 0 2.66,0a1.33,1.33 0 1 0 -2.66,0zM1182.9,476.7a1.33,1.33 0 1 0 2.66,0a1.33,1.33 0 1 0 -2.66,0zM1207.6,432.9a1.33,1.33 0 1 0 2.66,0a1.33,1.33 0 1 0 -2.66,0zM1257,512.6a1.33,1.33 0 1 0 2.66,0a1.33,1.33 0 1 0 -2.66,0zM1306.3,487.5a1.33,1.33 0 1 0 2.66,0a1.33,1.33 0 1 0 -2.66,0zM1331,557.2a1.33,1.33 0 1 0 2.66,0a1.33,1.33 0 1 0 -2.66,0zM1380.4,482.8a1.33,1.33 0 1 0 2.66,0a1.33,1.33 0 1 0 -2.66,0zM1405.1,456.3a1.33,1.33 0 1 0 2.66,0a1.33,1.33 0 1 0 -2.66,0zM1454.5,520.5a1.33,1.33 0 1 0 2.66,0a1.33,1.33 0 1 0 -2.66,0zM1503.9,530.2a1.33,1.33 0 1 0 2.66,0a1.33,1.33 0 1 0 -2.66,0zM1528.6,542.6a1.33,1.33 0 1 0 2.66,0a1.33,1.33 0 1 0 -2.66,0zM1553.3,545.1a1.33,1.33 0 1 0 2.66,0a1.33,1.33 0 1 0 -2.66,0zM1577.9,571.7a1.33,1.33 0 1 0 2.66,0a1.33,1.33 0 1 0 -2.66,0zM1627.3,579.2a1.33,1.33 0 1 0 2.66,0a1.33,1.33 0 1 0 -2.66,0zM1652,533.1a1.33,1.33 0 1 0 2.66,0a1.33,1.33 0 1 0 -2.66,0zM1676.7,522.9a1.33,1.33 0 1 0 2.66,0a1.33,1.33 0 1 0 -2.66,0zM1701.4,533.1a1.33,1.33 0 1 0 2.66,0a1.33,1.33 0 1 0 -2.66,0zM1726.1,471.7a1.33,1.33 0 1 0 2.66,0a1.33,1.33 0 1 0 -2.66,0zM1775.5,577.7a1.33,1.33 0 1 0 2.66,0a1.33,1.33 0 1 0 -2.66,0zM1800.2,575.3a1.33,1.33 0 1 0 2.66,0a1.33,1.33 0 1 0 -2.66,0zM1849.6,563.1a1.33,1.33 0 1 0 2.66,0a1.33,1.33 0 1 0 -2.66,0z" fill="#3f3f3f"/>
<path d="M738.4,410h2.8M837.1,317.9h2.8M985.3,383.8h2.8M1034.7,372.6h2.8M1108.7,365h2.8M1232.2,359.7h2.8M1281.6,373.5h2.8M1355.6,424.4h2.8M1429.7,441.3h2.8M1479.1,405.4h2.8M1602.6,457.1h2.8M1750.7,450.1h2.8M1824.8,443.5h2.8" fill="none" stroke="#3f3f3f" stroke-width="1.3"/>
<path d="M730.7,605.6H743.1V412H730.7zM755.5,605.6H767.8V462.5H755.5zM780.2,605.6H792.5V437.6H780.2zM804.9,605.6H817.3V364.2H804.9zM829.6,605.6H842V319.8H829.6zM854.3,605.6H866.7V334.6H854.3zM879.1,605.6H891.4V372.9H879.1zM903.8,605.6H916.1V497H903.8zM928.5,605.6H940.9V452H928.5zM953.2,605.6H965.6V459.1H953.2zM977.9,605.6H990.3V385.8H977.9zM1002.7,605.6H1015V500.5H1002.7zM1027.4,605.6H1039.7V374.6H1027.4zM1052.1,605.6H1064.5V412.1H1052.1zM1076.8,605.6H1089.2V400H1076.8zM1101.5,605.6H1113.9V367H1101.5zM1126.3,605.6H1138.6V436.1H1126.3zM1151,605.6H1163.3V461.1H1151zM1175.7,605.6H1188.1V479H1175.7zM1200.4,605.6H1212.8V435.2H1200.4zM1225.1,605.6H1237.5V361.7H1225.1zM1249.9,605.6H1262.2V514.9H1249.9zM1274.6,605.6H1286.9V375.5H1274.6zM1299.3,605.6H1311.7V489.9H1299.3zM1324,605.6H1336.4V559.6H1324zM1348.7,605.6H1361.1V426.5H1348.7zM1373.5,605.6H1385.8V485.1H1373.5zM1398.2,605.6H1410.5V458.6H1398.2zM1422.9,605.6H1435.3V443.3H1422.9zM1447.6,605.6H1460V522.9H1447.6zM1472.3,605.6H1484.7V407.4H1472.3zM1497.1,605.6H1509.4V532.6H1497.1zM1521.8,605.6H1534.1V545H1521.8zM1546.5,605.6H1558.9V547.4H1546.5zM1571.2,605.6H1583.6V574.1H1571.2zM1595.9,605.6H1608.3V459.2H1595.9zM1620.7,605.6H1633V581.6H1620.7zM1645.4,605.6H1657.7V535.5H1645.4zM1670.1,605.6H1682.5V525.3H1670.1zM1694.8,605.6H1707.2V535.5H1694.8zM1719.5,605.6H1731.9V474H1719.5zM1744.3,605.6H1756.6V452.1H1744.3zM1769,605.6H1781.3V580.1H1769zM1793.7,605.6H1806.1V577.7H1793.7zM1818.4,605.6H1830.8V445.5H1818.4zM1843.1,605.6H1855.5V565.5H1843.1z" fill="#85bedb"/>
<path d="M622.2,698.8L635.1,698.8L643.3,691.7L643.3,608.1L630.5,608.1L622.2,614.9zM648,698.8L660.9,698.8L669.1,691.7L669.1,628.5L656.2,628.5L648,635.4zM673.8,698.8L686.7,698.8L694.8,691.7L694.8,632.8L681.9,632.8L673.8,639.7zM699.6,698.8L712.5,698.8L720.5,691.7L720.5,626.8L707.7,626.8L699.6,633.7zM725.5,698.8L738.4,698.8L746.2,691.7L746.2,611.3L733.4,611.3L725.5,618.1zM751.3,698.8L764.2,698.8L772,691.7L772,653.4L759.1,653.4L751.3,660.4zM777.1,698.8L790,698.8L797.7,691.7L797.7,623.9L784.8,623.9L777.1,630.8zM802.9,698.8L815.8,698.8L823.4,691.7L823.4,640.2L810.5,640.2L802.9,647.1zM828.7,698.8L841.6,698.8L849.1,691.7L849.1,589.4L836.3,589.4L828.7,596.2zM854.5,698.8L867.4,698.8L874.9,691.7L874.9,622.1L862,622.1L854.5,629zM880.3,698.8L893.2,698.8L900.6,691.7L900.6,506.6L887.7,506.6L880.3,513.1zM906.1,698.8L919,698.8L926.3,691.7L926.3,516L913.4,516L906.1,522.5zM931.9,698.8L944.8,698.8L952,691.7L952,627.3L939.2,627.3L931.9,634.2zM957.7,698.8L970.6,698.8L977.7,691.7L977.7,637.1L964.9,637.1L957.7,644zM983.5,698.8L996.4,698.8L1003.5,691.7L1003.5,658.7L990.6,658.7L983.5,665.7zM1009.3,698.8L1022.2,698.8L1029.2,691.7L1029.2,497.2L1016.3,497.2L1009.3,503.7zM1035.1,698.8L1048,698.8L1054.9,691.7L1054.9,621.1L1042,621.1L1035.1,628zM1060.9,698.8L1073.8,698.8L1080.6,691.7L1080.6,616.1L1067.8,616.1L1060.9,622.9zM1086.7,698.8L1099.6,698.8L1106.4,691.7L1106.4,667.5L1093.5,667.5L1086.7,674.5zM1112.5,698.8L1125.4,698.8L1132.1,691.7L1132.1,582.5L1119.2,582.5L1112.5,589.2zM1138.3,698.8L1151.2,698.8L1157.8,691.7L1157.8,644.3L1144.9,644.3L1138.3,651.2zM1164.1,698.8L1177,698.8L1183.5,691.7L1183.5,609.1L1170.7,609.1L1164.1,615.9zM1189.9,698.8L1202.8,698.8L1209.2,691.7L1209.2,621.1L1196.4,621.1L1189.9,628zM1215.7,698.8L1228.7,698.8L1235,691.7L1235,577.2L1222.1,577.2L1215.7,583.9zM1241.6,698.8L1254.5,698.8L1260.7,691.7L1260.7,657.7L1247.8,657.7L1241.6,664.7zM1267.4,698.8L1280.3,698.8L1286.4,691.7L1286.4,623.3L1273.6,623.3L1267.4,630.2zM1293.2,698.8L1306.1,698.8L1312.1,691.7L1312.1,670.2L1299.3,670.2L1293.2,677.2zM1319,698.8L1331.9,698.8L1337.9,691.7L1337.9,611.3L1325,611.3L1319,618.1zM1344.8,698.8L1357.7,698.8L1363.6,691.7L1363.6,644.4L1350.7,644.4L1344.8,651.3zM1370.6,698.8L1383.5,698.8L1389.3,691.7L1389.3,612.1L1376.4,612.1L1370.6,618.9zM1396.4,698.8L1409.3,698.8L1415,691.7L1415,665.4L1402.2,665.4L1396.4,672.4zM1422.2,698.8L1435.1,698.8L1440.7,691.7L1440.7,661.1L1427.9,661.1L1422.2,668.1zM1448,698.8L1460.9,698.8L1466.5,691.7L1466.5,663.2L1453.6,663.2L1448,670.2zM1473.8,698.8L1486.7,698.8L1492.2,691.7L1492.2,674.1L1479.3,674.1L1473.8,681.1zM1499.6,698.8L1512.5,698.8L1517.9,691.7L1517.9,672.1L1505.1,672.1L1499.6,679.1zM1525.4,698.8L1538.3,698.8L1543.6,691.7L1543.6,621.3L1530.8,621.3L1525.4,628.2zM1551.2,698.8L1564.1,698.8L1569.4,691.7L1569.4,665.4L1556.5,665.4L1551.2,672.4zM1577,698.8L1589.9,698.8L1595.1,691.7L1595.1,646.8L1582.2,646.8L1577,653.7zM1602.8,698.8L1615.7,698.8L1620.8,691.7L1620.8,640.1L1607.9,640.1L1602.8,647zM1628.6,698.8L1641.5,698.8L1646.5,691.7L1646.5,657L1633.7,657L1628.6,664zM1654.4,698.8L1667.3,698.8L1672.3,691.7L1672.3,625.1L1659.4,625.1L1654.4,632zM1680.2,698.8L1693.1,698.8L1698,691.7L1698,623L1685.1,623L1680.2,629.9zM1706,698.8L1719,698.8L1723.7,691.7L1723.7,675.8L1710.8,675.8L1706,682.8zM1731.9,698.8L1744.8,698.8L1749.4,691.7L1749.4,663L1736.6,663L1731.9,670zM1757.7,698.8L1770.6,698.8L1775.1,691.7L1775.1,630.8L1762.3,630.8L1757.7,637.7zM1783.5,698.8L1796.4,698.8L1800.9,691.7L1800.9,648.8L1788,648.8L1783.5,655.8z" fill="#ebdf89"/>
<path d="M635.1,698.8L643.3,691.7V608.1L635.1,614.9zM660.9,698.8L669.1,691.7V628.5L660.9,635.4zM686.7,698.8L694.8,691.7V632.8L686.7,639.7zM712.5,698.8L720.5,691.7V626.8L712.5,633.7zM738.4,698.8L746.2,691.7V611.3L738.4,618.1zM764.2,698.8L772,691.7V653.4L764.2,660.4zM790,698.8L797.7,691.7V623.9L790,630.8zM815.8,698.8L823.4,691.7V640.2L815.8,647.1zM841.6,698.8L849.1,691.7V589.4L841.6,596.2zM867.4,698.8L874.9,691.7V622.1L867.4,629zM893.2,698.8L900.6,691.7V506.6L893.2,513.1zM919,698.8L926.3,691.7V516L919,522.5zM944.8,698.8L952,691.7V627.3L944.8,634.2zM970.6,698.8L977.7,691.7V637.1L970.6,644zM996.4,698.8L1003.5,691.7V658.7L996.4,665.7zM1022.2,698.8L1029.2,691.7V497.2L1022.2,503.7zM1048,698.8L1054.9,691.7V621.1L1048,628zM1073.8,698.8L1080.6,691.7V616.1L1073.8,622.9zM1099.6,698.8L1106.4,691.7V667.5L1099.6,674.5zM1125.4,698.8L1132.1,691.7V582.5L1125.4,589.2zM1151.2,698.8L1157.8,691.7V644.3L1151.2,651.2zM1177,698.8L1183.5,691.7V609.1L1177,615.9zM1202.8,698.8L1209.2,691.7V621.1L1202.8,628zM1228.7,698.8L1235,691.7V577.2L1228.7,583.9zM1254.5,698.8L1260.7,691.7V657.7L1254.5,664.7zM1280.3,698.8L1286.4,691.7V623.3L1280.3,630.2zM1306.1,698.8L1312.1,691.7V670.2L1306.1,677.2zM1331.9,698.8L1337.9,691.7V611.3L1331.9,618.1zM1357.7,698.8L1363.6,691.7V644.4L1357.7,651.3zM1383.5,698.8L1389.3,691.7V612.1L1383.5,618.9zM1409.3,698.8L1415,691.7V665.4L1409.3,672.4zM1435.1,698.8L1440.7,691.7V661.1L1435.1,668.1zM1460.9,698.8L1466.5,691.7V663.2L1460.9,670.2zM1486.7,698.8L1492.2,691.7V674.1L1486.7,681.1zM1512.5,698.8L1517.9,691.7V672.1L1512.5,679.1zM1538.3,698.8L1543.6,691.7V621.3L1538.3,628.2zM1564.1,698.8L1569.4,691.7V665.4L1564.1,672.4zM1589.9,698.8L1595.1,691.7V646.8L1589.9,653.7zM1615.7,698.8L1620.8,691.7V640.1L1615.7,647zM1641.5,698.8L1646.5,691.7V657L1641.5,664zM1667.3,698.8L1672.3,691.7V625.1L1667.3,632zM1693.1,698.8L1698,691.7V623L1693.1,629.9zM1719,698.8L1723.7,691.7V675.8L1719,682.8zM1744.8,698.8L1749.4,691.7V663L1744.8,670zM1770.6,698.8L1775.1,691.7V630.8L1770.6,637.7zM1796.4,698.8L1800.9,691.7V648.8L1796.4,655.8z" fill="#ddd281"/>
<path d="M622.2,614.9H635.1L643.3,608.1H630.5zM648,635.4H660.9L669.1,628.5H656.2zM673.8,639.7H686.7L694.8,632.8H681.9zM699.6,633.7H712.5L720.5,626.8H707.7zM725.5,618.1H738.4L746.2,611.3H733.4zM751.3,660.4H764.2L772,653.4H759.1zM777.1,630.8H790L797.7,623.9H784.8zM802.9,647.1H815.8L823.4,640.2H810.5zM828.7,596.2H841.6L849.1,589.4H836.3zM854.5,629H867.4L874.9,622.1H862zM880.3,513.1H893.2L900.6,506.6H887.7zM906.1,522.5H919L926.3,516H913.4zM931.9,634.2H944.8L952,627.3H939.2zM957.7,644H970.6L977.7,637.1H964.9zM983.5,665.7H996.4L1003.5,658.7H990.6zM1009.3,503.7H1022.2L1029.2,497.2H1016.3zM1035.1,628H1048L1054.9,621.1H1042zM1060.9,622.9H1073.8L1080.6,616.1H1067.8zM1086.7,674.5H1099.6L1106.4,667.5H1093.5zM1112.5,589.2H1125.4L1132.1,582.5H1119.2zM1138.3,651.2H1151.2L1157.8,644.3H1144.9zM1164.1,615.9H1177L1183.5,609.1H1170.7zM1189.9,628H1202.8L1209.2,621.1H1196.4zM1215.7,583.9H1228.7L1235,577.2H1222.1zM1241.6,664.7H1254.5L1260.7,657.7H1247.8zM1267.4,630.2H1280.3L1286.4,623.3H1273.6zM1293.2,677.2H1306.1L1312.1,670.2H1299.3zM1319,618.1H1331.9L1337.9,611.3H1325zM1344.8,651.3H1357.7L1363.6,644.4H1350.7zM1370.6,618.9H1383.5L1389.3,612.1H1376.4zM1396.4,672.4H1409.3L1415,665.4H1402.2zM1422.2,668.1H1435.1L1440.7,661.1H1427.9zM1448,670.2H1460.9L1466.5,663.2H1453.6zM1473.8,681.1H1486.7L1492.2,674.1H1479.3zM1499.6,679.1H1512.5L1517.9,672.1H1505.1zM1525.4,628.2H1538.3L1543.6,621.3H1530.8zM1551.2,672.4H1564.1L1569.4,665.4H1556.5zM1577,653.7H1589.9L1595.1,646.8H1582.2zM1602.8,647H1615.7L1620.8,640.1H1607.9zM1628.6,664H1641.5L1646.5,657H1633.7zM1654.4,632H1667.3L1672.3,625.1H1659.4zM1680.2,629.9H1693.1L1698,623H1685.1zM1706,682.8H1719L1723.7,675.8H1710.8zM1731.9,670H1744.8L1749.4,663H1736.6zM1757.7,637.7H1770.6L1775.1,630.8H1762.3zM1783.5,655.8H1796.4L1800.9,648.8H1788z" fill="#f0e48d"/>
<path d="M632.5,611.5L634.2,612.9L632.8,614.6L631.1,613.2zM638.2,615.7L658.4,631.7L656.7,633.9L638.2,619.3zM657.8,631.4L683.6,635.7L683.1,638.5L657.3,634.2zM683,635.7L708.8,629.7L709.4,632.5L683.6,638.5zM708.4,629.9L728.4,617.8L728.4,621.1L709.8,632.3zM732,616L734.3,614.6L735.5,616.5L733.1,617.9zM735.8,615L736.7,616.4L734.8,617.6L733.9,616.2zM741.3,623.4L761.9,657L759.4,658.5L741.3,628.8zM759.6,656.8L780,633.4L780,637.7L761.7,658.7zM784.3,628.8L785.6,627.4L787.3,628.9L786.1,630.3zM787,627.2L789.2,628.6L788,630.5L785.8,629.1zM792.9,630.6L813,643.3L811.4,645.7L792.9,633.9zM810.9,643.9L831.5,603.2L831.5,609.5L813.5,645.2zM836.3,594.5L837,593.1L839,594.1L838.3,595.5zM838.9,592.9L840,594.3L838.2,595.7L837.1,594.3zM844.4,599.5L864.9,625.5L862.6,627.3L844.4,604.1zM862.4,626.1L883.1,533.1L883.1,546.1L865.1,626.7zM888.1,511.8L888.4,510.4L890.6,510.9L890.3,512.3zM890,509.3L915.8,518.7L914.8,521.4L889,512zM916.4,519.8L916.7,521.2L914.5,521.7L914.2,520.3zM921.7,541.7L942.4,631.3L939.7,631.9L921.7,554.2zM941.6,630.3L967.3,640.1L966.3,642.7L940.6,632.9zM967.6,640.6L969.2,642L967.8,643.7L966.1,642.3zM973.3,645L993.5,662L991.7,664.1L973.3,648.7zM991.2,662.8L1011.9,532.7L1011.9,550.7L994,663.3zM1017,502.5L1017.3,501.1L1019.5,501.4L1019.3,502.8zM1019.5,501L1019.8,502.4L1017.6,502.9L1017.3,501.5zM1024.8,525.3L1045.5,625.1L1042.8,625.7L1024.8,539.2zM1043.9,624L1069.7,619L1070.2,621.8L1044.4,626.8zM1070.9,619.9L1071.6,621.3L1069.6,622.3L1068.9,620.9zM1076.4,630.1L1097,671.2L1094.4,672.5L1076.4,636.4zM1094.4,671.5L1115,603.1L1115,612.9L1097.1,672.3zM1120,587.8L1120.4,586.4L1122.6,587L1122.1,588.4zM1122.5,586.3L1123.1,587.7L1121,588.5L1120.4,587.1zM1127.9,598.5L1148.6,648.1L1146,649.2L1127.9,605.9zM1146.1,647.8L1166.6,619.8L1166.6,624.6L1148.4,649.5zM1171.1,614.1L1172.1,612.7L1173.9,614L1172.9,615.4zM1173.5,612.3L1176.5,613.7L1175.6,615.8L1172.6,614.4zM1179.5,614.8L1199.4,624.1L1198.2,626.7L1179.5,617.9zM1197.6,624.7L1218.1,589.6L1218.1,595.2L1200,626.1zM1222.8,582.2L1223.6,580.8L1225.6,582L1224.7,583.4zM1225.7,581.1L1226.1,582.5L1224,583.1L1223.5,581.7zM1231,596.9L1251.7,661.6L1249,662.5L1231,606.2zM1249.2,661.2L1269.7,633.8L1269.7,638.6L1251.5,662.9zM1274.2,628.3L1275.2,626.9L1277,628.3L1276,629.7zM1277.1,627L1277.9,628.4L1275.9,629.5L1275.1,628.1zM1282.6,636.4L1303.1,673.9L1300.7,675.3L1282.6,642.3zM1300.6,674L1321.2,626.8L1321.2,633.8L1303.2,675.1zM1326,616.5L1326.6,615.1L1328.7,616L1328.1,617.4zM1328.6,614.9L1329.7,616.3L1327.9,617.7L1326.8,616.3zM1334.1,621.6L1354.6,647.9L1352.3,649.6L1334.1,626.2zM1352.3,647.9L1372.8,622.2L1372.8,626.7L1354.6,649.6zM1377.2,617.1L1378.3,615.7L1380.1,617.1L1379,618.5zM1380.2,615.9L1380.9,617.3L1378.9,618.3L1378.2,616.9zM1385.7,626.5L1406.3,669.2L1403.7,670.4L1385.7,633zM1404.8,668.4L1430.5,664.1L1431,666.9L1405.2,671.2zM1430.9,664.1L1456.7,666.2L1456.4,669L1430.7,666.9zM1457.1,666.3L1482.9,677.2L1481.8,679.8L1456,668.9zM1482.2,677.1L1508,675.1L1508.2,677.9L1482.4,679.9zM1506.8,675.8L1527.4,635.2L1527.4,641.4L1509.4,677.1zM1532.2,626.5L1532.9,625.1L1534.9,626.1L1534.2,627.5zM1534.8,625L1535.7,626.4L1533.7,627.6L1532.9,626.2zM1540.3,633.8L1560.9,669.1L1558.4,670.5L1540.3,639.4zM1558.8,668.6L1579,654.1L1579,657.5L1560.5,670.9zM1582.8,651.6L1584.8,650.2L1586.1,652.1L1584.1,653.5zM1585.1,649.8L1610.8,643.1L1611.5,645.8L1585.8,652.5zM1611.8,643.5L1613.9,644.9L1612.7,646.8L1610.6,645.4zM1617.6,647L1637.7,660.2L1636.2,662.5L1617.6,650.3zM1635.9,660.5L1656.3,635.1L1656.3,639.6L1638.1,662.2zM1660.7,630.1L1661.9,628.7L1663.6,630.1L1662.5,631.5zM1662.6,628L1688.4,625.9L1688.6,628.7L1662.9,630.8zM1689.5,626.8L1690.2,628.2L1688.2,629.2L1687.5,627.8zM1695,637.3L1715.6,679.6L1713,680.8L1695,643.7zM1713.7,678.9L1733.6,669L1733.6,672.2L1714.9,681.5zM1736.7,667.8L1739.6,666.4L1740.6,668.4L1737.8,669.8zM1739,666.5L1759.4,640.9L1759.4,645.4L1741.2,668.3zM1763.8,635.8L1765,634.4L1766.7,635.8L1765.6,637.2zM1766.5,634.2L1768.5,635.6L1767.2,637.4L1765.2,636zM1772.3,637.9L1792.4,652L1790.8,654.3L1772.3,641.3z" fill="#3f3f3f"/>
<path d="M656.1,632.8a1.41,1.41 0 1 0 2.82,0a1.41,1.41 0 1 0 -2.82,0zM681.9,637.1a1.41,1.41 0 1 0 2.82,0a1.41,1.41 0 1 0 -2.82,0zM707.7,631.1a1.41,1.41 0 1 0 2.82,0a1.41,1.41 0 1 0 -2.82,0zM759.2,657.7a1.41,1.41 0 1 0 2.82,0a1.41,1.41 0 1 0 -2.82,0zM810.8,644.5a1.41,1.41 0 1 0 2.82,0a1.41,1.41 0 1 0 -2.82,0zM862.3,626.4a1.41,1.41 0 1 0 2.82,0a1.41,1.41 0 1 0 -2.82,0zM888.1,510.7a1.41,1.41 0 1 0 2.82,0a1.41,1.41 0 1 0 -2.82,0zM913.9,520.1a1.41,1.41 0 1 0 2.82,0a1.41,1.41 0 1 0 -2.82,0zM939.7,631.6a1.41,1.41 0 1 0 2.82,0a1.41,1.41 0 1 0 -2.82,0zM965.4,641.4a1.41,1.41 0 1 0 2.82,0a1.41,1.41 0 1 0 -2.82,0zM991.2,663.1a1.41,1.41 0 1 0 2.82,0a1.41,1.41 0 1 0 -2.82,0zM1042.8,625.4a1.41,1.41 0 1 0 2.82,0a1.41,1.41 0 1 0 -2.82,0zM1068.5,620.4a1.41,1.41 0 1 0 2.82,0a1.41,1.41 0 1 0 -2.82,0zM1094.3,671.9a1.41,1.41 0 1 0 2.82,0a1.41,1.41 0 1 0 -2.82,0zM1145.8,648.6a1.41,1.41 0 1 0 2.82,0a1.41,1.41 0 1 0 -2.82,0zM1197.4,625.4a1.41,1.41 0 1 0 2.82,0a1.41,1.41 0 1 0 -2.82,0zM1248.9,662.1a1.41,1.41 0 1 0 2.82,0a1.41,1.41 0 1 0 -2.82,0zM1300.5,674.6a1.41,1.41 0 1 0 2.82,0a1.41,1.41 0 1 0 -2.82,0zM1352,648.7a1.41,1.41 0 1 0 2.82,0a1.41,1.41 0 1 0 -2.82,0zM1403.6,669.8a1.41,1.41 0 1 0 2.82,0a1.41,1.41 0 1 0 -2.82,0zM1429.4,665.5a1.41,1.41 0 1 0 2.82,0a1.41,1.41 0 1 0 -2.82,0zM1455.1,667.6a1.41,1.41 0 1 0 2.82,0a1.41,1.41 0 1 0 -2.82,0zM1480.9,678.5a1.41,1.41 0 1 0 2.82,0a1.41,1.41 0 1 0 -2.82,0zM1506.7,676.5a1.41,1.41 0 1 0 2.82,0a1.41,1.41 0 1 0 -2.82,0zM1558.2,669.8a1.41,1.41 0 1 0 2.82,0a1.41,1.41 0 1 0 -2.82,0zM1584,651.1a1.41,1.41 0 1 0 2.82,0a1.41,1.41 0 1 0 -2.82,0zM1609.8,644.4a1.41,1.41 0 1 0 2.82,0a1.41,1.41 0 1 0 -2.82,0zM1635.6,661.4a1.41,1.41 0 1 0 2.82,0a1.41,1.41 0 1 0 -2.82,0zM1661.3,629.4a1.41,1.41 0 1 0 2.82,0a1.41,1.41 0 1 0 -2.82,0zM1687.1,627.3a1.41,1.41 0 1 0 2.82,0a1.41,1.41 0 1 0 -2.82,0zM1712.9,680.2a1.41,1.41 0 1 0 2.82,0a1.41,1.41 0 1 0 -2.82,0zM1738.7,667.4a1.41,1.41 0 1 0 2.82,0a1.41,1.41 0 1 0 -2.82,0zM1790.2,653.1a1.41,1.41 0 1 0 2.82,0a1.41,1.41 0 1 0 -2.82,0z" fill="#3f3f3f"/>
<path d="M630.4,612.6h2.8M733.5,615.8h2.8M785,628.4h2.8M836.6,593.8h2.8M1017,501.4h2.8M1120.1,586.9h2.8M1171.6,613.6h2.8M1223.2,581.6h2.8M1274.7,627.8h2.8M1326.3,615.8h2.8M1377.8,616.6h2.8M1532.5,625.8h2.8M1764.4,635.3h2.8" fill="none" stroke="#3f3f3f" stroke-width="1.3"/>
<path d="M622.2,698.8H635.1V614.9H622.2zM648,698.8H660.9V635.4H648zM673.8,698.8H686.7V639.7H673.8zM699.6,698.8H712.5V633.7H699.6zM725.5,698.8H738.4V618.1H725.5zM751.3,698.8H764.2V660.4H751.3zM777.1,698.8H790V630.8H777.1zM802.9,698.8H815.8V647.1H802.9zM828.7,698.8H841.6V596.2H828.7zM854.5,698.8H867.4V629H854.5zM880.3,698.8H893.2V513.1H880.3zM906.1,698.8H919V522.5H906.1zM931.9,698.8H944.8V634.2H931.9zM957.7,698.8H970.6V644H957.7zM983.5,698.8H996.4V665.7H983.5zM1009.3,698.8H1022.2V503.7H1009.3zM1035.1,698.8H1048V628H1035.1zM1060.9,698.8H1073.8V622.9H1060.9zM1086.7,698.8H1099.6V674.5H1086.7zM1112.5,698.8H1125.4V589.2H1112.5zM1138.3,698.8H1151.2V651.2H1138.3zM1164.1,698.8H1177V615.9H1164.1zM1189.9,698.8H1202.8V628H1189.9zM1215.7,698.8H1228.7V583.9H1215.7zM1241.6,698.8H1254.5V664.7H1241.6zM1267.4,698.8H1280.3V630.2H1267.4zM1293.2,698.8H1306.1V677.2H1293.2zM1319,698.8H1331.9V618.1H1319zM1344.8,698.8H1357.7V651.3H1344.8zM1370.6,698.8H1383.5V618.9H1370.6zM1396.4,698.8H1409.3V672.4H1396.4zM1422.2,698.8H1435.1V668.1H1422.2zM1448,698.8H1460.9V670.2H1448zM1473.8,698.8H1486.7V681.1H1473.8zM1499.6,698.8H1512.5V679.1H1499.6zM1525.4,698.8H1538.3V628.2H1525.4zM1551.2,698.8H1564.1V672.4H1551.2zM1577,698.8H1589.9V653.7H1577zM1602.8,698.8H1615.7V647H1602.8zM1628.6,698.8H1641.5V664H1628.6zM1654.4,698.8H1667.3V632H1654.4zM1680.2,698.8H1693.1V629.9H1680.2zM1706,698.8H1719V682.8H1706zM1731.9,698.8H1744.8V670H1731.9zM1757.7,698.8H1770.6V637.7H1757.7zM1783.5,698.8H1796.4V655.8H1783.5z" fill="#ebdf89"/>
<path d="M503.3,800.9L516.8,800.9L525.8,793.1L525.8,610.6L512.3,610.6L503.3,617.7zM530.3,800.9L543.8,800.9L552.7,793.1L552.7,737.3L539.3,737.3L530.3,744.9zM557.3,800.9L570.8,800.9L579.6,793.1L579.6,650.1L566.2,650.1L557.3,657.4zM584.3,800.9L597.8,800.9L606.5,793.1L606.5,732.2L593.1,732.2L584.3,739.8zM611.3,800.9L624.8,800.9L633.4,793.1L633.4,619.2L620,619.2L611.3,626.4zM638.3,800.9L651.8,800.9L660.3,793.1L660.3,695.3L646.9,695.3L638.3,702.7zM665.3,800.9L678.8,800.9L687.2,793.1L687.2,736.5L673.8,736.5L665.3,744.1zM692.3,800.9L705.8,800.9L714.1,793.1L714.1,738.7L700.7,738.7L692.3,746.3zM719.3,800.9L732.8,800.9L741,793.1L741,687.2L727.6,687.2L719.3,694.6zM746.3,800.9L759.8,800.9L767.9,793.1L767.9,735.6L754.5,735.6L746.3,743.2zM773.3,800.9L786.8,800.9L794.8,793.1L794.8,689.8L781.4,689.8L773.3,697.2zM800.3,800.9L813.7,800.9L821.7,793.1L821.7,729.6L808.3,729.6L800.3,737.1zM827.2,800.9L840.7,800.9L848.6,793.1L848.6,702.1L835.2,702.1L827.2,709.6zM854.2,800.9L867.7,800.9L875.6,793.1L875.6,739.1L862.1,739.1L854.2,746.7zM881.2,800.9L894.7,800.9L902.5,793.1L902.5,691.4L889,691.4L881.2,698.8zM908.2,800.9L921.7,800.9L929.4,793.1L929.4,632L915.9,632L908.2,639.2zM935.2,800.9L948.7,800.9L956.3,793.1L956.3,725.7L942.8,725.7L935.2,733.2zM962.2,800.9L975.7,800.9L983.2,793.1L983.2,765.7L969.7,765.7L962.2,773.4zM989.2,800.9L1002.7,800.9L1010.1,793.1L1010.1,720.2L996.6,720.2L989.2,727.7zM1016.2,800.9L1029.7,800.9L1037,793.1L1037,739.1L1023.5,739.1L1016.2,746.7zM1043.2,800.9L1056.7,800.9L1063.9,793.1L1063.9,631L1050.4,631L1043.2,638.2zM1070.2,800.9L1083.7,800.9L1090.8,793.1L1090.8,695.3L1077.3,695.3L1070.2,702.7zM1097.2,800.9L1110.7,800.9L1117.7,793.1L1117.7,657.6L1104.2,657.6L1097.2,664.9zM1124.2,800.9L1137.7,800.9L1144.6,793.1L1144.6,650.2L1131.1,650.2L1124.2,657.5zM1151.2,800.9L1164.7,800.9L1171.5,793.1L1171.5,715.4L1158,715.4L1151.2,722.9zM1178.2,800.9L1191.7,800.9L1198.4,793.1L1198.4,733L1184.9,733L1178.2,740.6zM1205.2,800.9L1218.7,800.9L1225.3,793.1L1225.3,698.7L1211.9,698.7L1205.2,706.1zM1232.2,800.9L1245.7,800.9L1252.2,793.1L1252.2,739.1L1238.8,739.1L1232.2,746.7zM1259.2,800.9L1272.7,800.9L1279.1,793.1L1279.1,721L1265.7,721L1259.2,728.5zM1286.1,800.9L1299.6,800.9L1306,793.1L1306,779.1L1292.6,779.1L1286.1,786.8zM1313.1,800.9L1326.6,800.9L1332.9,793.1L1332.9,724.1L1319.5,724.1L1313.1,731.6zM1340.1,800.9L1353.6,800.9L1359.8,793.1L1359.8,739.2L1346.4,739.2L1340.1,746.8zM1367.1,800.9L1380.6,800.9L1386.7,793.1L1386.7,734.1L1373.3,734.1L1367.1,741.7zM1394.1,800.9L1407.6,800.9L1413.6,793.1L1413.6,690.9L1400.2,690.9L1394.1,698.3zM1421.1,800.9L1434.6,800.9L1440.5,793.1L1440.5,741.1L1427.1,741.1L1421.1,748.7zM1448.1,800.9L1461.6,800.9L1467.4,793.1L1467.4,743.2L1454,743.2L1448.1,750.8zM1475.1,800.9L1488.6,800.9L1494.3,793.1L1494.3,713L1480.9,713L1475.1,720.5zM1502.1,800.9L1515.6,800.9L1521.2,793.1L1521.2,758.2L1507.8,758.2L1502.1,765.8zM1529.1,800.9L1542.6,800.9L1548.1,793.1L1548.1,780.1L1534.7,780.1L1529.1,787.8zM1556.1,800.9L1569.6,800.9L1575.1,793.1L1575.1,764L1561.6,764L1556.1,771.7zM1583.1,800.9L1596.6,800.9L1602,793.1L1602,713.8L1588.5,713.8L1583.1,721.3zM1610.1,800.9L1623.6,800.9L1628.9,793.1L1628.9,729.1L1615.4,729.1L1610.1,736.6zM1637.1,800.9L1650.6,800.9L1655.8,793.1L1655.8,755.2L1642.3,755.2L1637.1,762.8zM1664.1,800.9L1677.6,800.9L1682.7,793.1L1682.7,761.2L1669.2,761.2L1664.1,768.9zM1691.1,800.9L1704.6,800.9L1709.6,793.1L1709.6,752.1L1696.1,752.1L1691.1,759.7zM1718.1,800.9L1731.6,800.9L1736.5,793.1L1736.5,730.1L1723,730.1L1718.1,737.6z" fill="#f2864b"/>
<path d="M516.8,800.9L525.8,793.1V610.6L516.8,617.7zM543.8,800.9L552.7,793.1V737.3L543.8,744.9zM570.8,800.9L579.6,793.1V650.1L570.8,657.4zM597.8,800.9L606.5,793.1V732.2L597.8,739.8zM624.8,800.9L633.4,793.1V619.2L624.8,626.4zM651.8,800.9L660.3,793.1V695.3L651.8,702.7zM678.8,800.9L687.2,793.1V736.5L678.8,744.1zM705.8,800.9L714.1,793.1V738.7L705.8,746.3zM732.8,800.9L741,793.1V687.2L732.8,694.6zM759.8,800.9L767.9,793.1V735.6L759.8,743.2zM786.8,800.9L794.8,793.1V689.8L786.8,697.2zM813.7,800.9L821.7,793.1V729.6L813.7,737.1zM840.7,800.9L848.6,793.1V702.1L840.7,709.6zM867.7,800.9L875.6,793.1V739.1L867.7,746.7zM894.7,800.9L902.5,793.1V691.4L894.7,698.8zM921.7,800.9L929.4,793.1V632L921.7,639.2zM948.7,800.9L956.3,793.1V725.7L948.7,733.2zM975.7,800.9L983.2,793.1V765.7L975.7,773.4zM1002.7,800.9L1010.1,793.1V720.2L1002.7,727.7zM1029.7,800.9L1037,793.1V739.1L1029.7,746.7zM1056.7,800.9L1063.9,793.1V631L1056.7,638.2zM1083.7,800.9L1090.8,793.1V695.3L1083.7,702.7zM1110.7,800.9L1117.7,793.1V657.6L1110.7,664.9zM1137.7,800.9L1144.6,793.1V650.2L1137.7,657.5zM1164.7,800.9L1171.5,793.1V715.4L1164.7,722.9zM1191.7,800.9L1198.4,793.1V733L1191.7,740.6zM1218.7,800.9L1225.3,793.1V698.7L1218.7,706.1zM1245.7,800.9L1252.2,793.1V739.1L1245.7,746.7zM1272.7,800.9L1279.1,793.1V721L1272.7,728.5zM1299.6,800.9L1306,793.1V779.1L1299.6,786.8zM1326.6,800.9L1332.9,793.1V724.1L1326.6,731.6zM1353.6,800.9L1359.8,793.1V739.2L1353.6,746.8zM1380.6,800.9L1386.7,793.1V734.1L1380.6,741.7zM1407.6,800.9L1413.6,793.1V690.9L1407.6,698.3zM1434.6,800.9L1440.5,793.1V741.1L1434.6,748.7zM1461.6,800.9L1467.4,793.1V743.2L1461.6,750.8zM1488.6,800.9L1494.3,793.1V713L1488.6,720.5zM1515.6,800.9L1521.2,793.1V758.2L1515.6,765.8zM1542.6,800.9L1548.1,793.1V780.1L1542.6,787.8zM1569.6,800.9L1575.1,793.1V764L1569.6,771.7zM1596.6,800.9L1602,793.1V713.8L1596.6,721.3zM1623.6,800.9L1628.9,793.1V729.1L1623.6,736.6zM1650.6,800.9L1655.8,793.1V755.2L1650.6,762.8zM1677.6,800.9L1682.7,793.1V761.2L1677.6,768.9zM1704.6,800.9L1709.6,793.1V752.1L1704.6,759.7zM1731.6,800.9L1736.5,793.1V730.1L1731.6,737.6z" fill="#e38048"/>
<path d="M503.3,617.7H516.8L525.8,610.6H512.3zM530.3,744.9H543.8L552.7,737.3H539.3zM557.3,657.4H570.8L579.6,650.1H566.2zM584.3,739.8H597.8L606.5,732.2H593.1zM611.3,626.4H624.8L633.4,619.2H620zM638.3,702.7H651.8L660.3,695.3H646.9zM665.3,744.1H678.8L687.2,736.5H673.8zM692.3,746.3H705.8L714.1,738.7H700.7zM719.3,694.6H732.8L741,687.2H727.6zM746.3,743.2H759.8L767.9,735.6H754.5zM773.3,697.2H786.8L794.8,689.8H781.4zM800.3,737.1H813.7L821.7,729.6H808.3zM827.2,709.6H840.7L848.6,702.1H835.2zM854.2,746.7H867.7L875.6,739.1H862.1zM881.2,698.8H894.7L902.5,691.4H889zM908.2,639.2H921.7L929.4,632H915.9zM935.2,733.2H948.7L956.3,725.7H942.8zM962.2,773.4H975.7L983.2,765.7H969.7zM989.2,727.7H1002.7L1010.1,720.2H996.6zM1016.2,746.7H1029.7L1037,739.1H1023.5zM1043.2,638.2H1056.7L1063.9,631H1050.4zM1070.2,702.7H1083.7L1090.8,695.3H1077.3zM1097.2,664.9H1110.7L1117.7,657.6H1104.2zM1124.2,657.5H1137.7L1144.6,650.2H1131.1zM1151.2,722.9H1164.7L1171.5,715.4H1158zM1178.2,740.6H1191.7L1198.4,733H1184.9zM1205.2,706.1H1218.7L1225.3,698.7H1211.9zM1232.2,746.7H1245.7L1252.2,739.1H1238.8zM1259.2,728.5H1272.7L1279.1,721H1265.7zM1286.1,786.8H1299.6L1306,779.1H1292.6zM1313.1,731.6H1326.6L1332.9,724.1H1319.5zM1340.1,746.8H1353.6L1359.8,739.2H1346.4zM1367.1,741.7H1380.6L1386.7,734.1H1373.3zM1394.1,698.3H1407.6L1413.6,690.9H1400.2zM1421.1,748.7H1434.6L1440.5,741.1H1427.1zM1448.1,750.8H1461.6L1467.4,743.2H1454zM1475.1,720.5H1488.6L1494.3,713H1480.9zM1502.1,765.8H1515.6L1521.2,758.2H1507.8zM1529.1,787.8H1542.6L1548.1,780.1H1534.7zM1556.1,771.7H1569.6L1575.1,764H1561.6zM1583.1,721.3H1596.6L1602,713.8H1588.5zM1610.1,736.6H1623.6L1628.9,729.1H1615.4zM1637.1,762.8H1650.6L1655.8,755.2H1642.3zM1664.1,768.9H1677.6L1682.7,761.2H1669.2zM1691.1,759.7H1704.6L1709.6,752.1H1696.1zM1718.1,737.6H1731.6L1736.5,730.1H1723z" fill="#f68a4b"/>
<path d="M514.6,614.8L514.9,616.2L512.6,616.7L512.3,615.3zM520.2,639.6L541.9,741.7L538.9,742.3L520.2,654zM539,741.6L560.6,671.4L560.6,681.6L541.8,742.5zM565.8,655.7L566.2,654.3L568.5,655L568.1,656.4zM568.5,654.3L569,655.7L566.7,656.4L566.2,655zM574.1,670.4L595.8,736.4L592.9,737.4L574.1,680zM592.9,736.6L614.6,645.5L614.6,658.5L595.8,737.3zM619.8,624.8L620.1,623.4L622.5,624L622.1,625.4zM622.4,623.3L622.9,624.7L620.7,625.5L620.2,624.1zM628,638.2L649.7,699.4L646.8,700.4L628,647.3zM649.3,699.3L650.2,700.7L648.2,702L647.2,700.6zM655,707.5L676.5,740.4L674,742L655,713zM675.3,739.7L702.3,741.9L702,744.9L675.1,742.7zM700.8,742.7L722.4,701.5L722.4,708L703.5,744.1zM727.3,692.7L728.1,691.3L730.2,692.4L729.5,693.8zM730.2,691.2L731,692.6L728.9,693.8L728.1,692.4zM735.9,700.8L757.4,739.6L754.8,741.1L735.9,707zM754.8,739.6L776.3,702.9L776.3,708.9L757.4,741.1zM781.2,695.2L782,693.8L784.1,695L783.3,696.4zM784,693.8L785,695.2L783,696.5L782.1,695.1zM789.8,701.7L811.3,733.5L808.8,735.2L789.8,707.1zM808.9,733.3L830.2,711.5L830.2,715.8L811.1,735.4zM834.7,707.3L836.1,705.9L837.8,707.6L836.5,709zM837.9,706L839,707.4L837,708.9L836,707.5zM843.7,713.5L865.1,742.9L862.7,744.7L843.7,718.6zM862.6,743.1L884.2,704.9L884.2,711L865.2,744.6zM889.1,696.8L889.8,695.4L891.9,696.6L891.2,698zM889.5,695.4L911.1,647.7L911.1,655L892.3,696.7zM916.1,637.4L916.8,636L919,637L918.3,638.4zM919,636.2L919.4,637.6L917.1,638.2L916.7,636.8zM924.6,654.5L946.3,730L943.4,730.8L924.6,665.4zM945.8,729.7L946.8,731.1L944.8,732.5L943.8,731.1zM951.6,737.7L973,769.6L970.5,771.3L951.6,743.1zM970.5,769.7L992,733.3L992,739.2L973.1,771.3zM996.9,725.7L997.7,724.3L999.8,725.5L998.9,726.9zM999.4,723.9L1001.4,725.3L1000,727.3L998,725.9zM1005.5,727.8L1026.6,742.6L1024.8,745.1L1005.5,731.5zM1024.2,743.5L1045.9,656.4L1045.9,668.8L1027.2,744.2zM1051.1,636.6L1051.5,635.2L1053.8,635.8L1053.5,637.2zM1053.8,635L1054.4,636.4L1052.1,637.4L1051.5,636zM1059.4,647.7L1081,699.4L1078.2,700.5L1059.4,655.5zM1078.4,699.1L1099.8,669L1099.8,674.2L1080.8,700.8zM1104.6,662.9L1105.6,661.5L1107.6,662.9L1106.6,664.3zM1106.2,660.7L1133.1,653.3L1133.9,656.2L1107,663.6zM1134.6,654.3L1135.2,655.7L1133,656.6L1132.4,655.2zM1140.3,667.1L1161.9,719.5L1159.1,720.7L1140.3,675zM1161.2,719.1L1163.3,720.5L1162,722.5L1159.8,721.1zM1167.2,722.7L1188.3,736.5L1186.6,739L1167.2,726.3zM1186.3,736.8L1207.7,709.5L1207.7,714.4L1188.6,738.6zM1212.4,704L1213.5,702.6L1215.4,704.1L1214.3,705.5zM1215.4,702.7L1216.4,704.1L1214.3,705.4L1213.4,704zM1221.2,710.8L1242.6,743L1240.1,744.7L1221.2,716.2zM1240.5,742.6L1261.6,728.4L1261.6,732L1242.2,745.1zM1265.6,726.1L1267.7,724.7L1269,726.7L1266.9,728.1zM1269.4,725.2L1270.1,726.6L1267.9,727.6L1267.2,726.2zM1275.1,736.7L1296.7,783.3L1293.9,784.5L1275.1,743.8zM1293.9,783.3L1315.5,739.2L1315.5,746L1296.6,784.6zM1320.5,729.7L1321.2,728.3L1323.3,729.3L1322.7,730.7zM1322.8,727.7L1325.3,729.1L1324.2,731.2L1321.7,729.8zM1329,730.9L1350,742.6L1348.5,745.2L1329,734.3zM1348.9,742.5L1375.9,737.3L1376.5,740.3L1349.5,745.4zM1374.9,738L1396.4,703.5L1396.4,709.2L1377.5,739.6zM1401.2,696.3L1402.1,694.9L1404.2,696.2L1403.3,697.6zM1404.2,695L1405,696.4L1402.8,697.5L1402.1,696.1zM1409.9,704.9L1431.4,745.1L1428.8,746.5L1409.9,711.3zM1430.2,744.3L1457.2,746.4L1456.9,749.4L1430,747.3zM1455.9,746.9L1477.3,723L1477.3,727.5L1458.2,748.9zM1481.9,718.3L1483.1,716.9L1484.9,718.5L1483.7,719.9zM1485.1,717.1L1485.9,718.5L1483.8,719.7L1483,718.3zM1490.8,726.1L1512.3,762.2L1509.7,763.7L1490.8,731.9zM1511.7,762L1513.5,763.4L1511.9,765.3L1510.2,763.9zM1517.7,766.5L1538.9,783.7L1537,786.1L1517.7,770.4zM1537.2,783.6L1558.2,771.1L1558.2,774.6L1538.7,786.2zM1561.9,769.1L1564.3,767.7L1565.5,769.8L1563.2,771.2zM1563.6,768.1L1585.1,727.9L1585.1,734.2L1566.2,769.5zM1590.1,719.3L1590.8,717.9L1592.9,719L1592.2,720.4zM1592.5,717.4L1594.9,718.8L1593.7,720.9L1591.3,719.5zM1598.6,720.6L1619.6,732.5L1618.1,735.1L1598.6,724zM1619.7,732.9L1621.1,734.3L1619.4,736.1L1618,734.7zM1625.6,738.3L1646.8,758.9L1644.7,761L1625.6,742.4zM1646.1,758.5L1673.1,764.5L1672.4,767.4L1645.5,761.4zM1672.3,764.6L1699.2,755.4L1700.2,758.3L1673.2,767.4zM1698.8,755.7L1719.9,738.4L1719.9,742.3L1700.7,758zM1724.2,735.3L1725.9,733.9L1727.4,735.7L1725.7,737.1z" fill="#3f3f3f"/>
<path d="M538.9,742a1.50,1.50 0 1 0 3.01,0a1.50,1.50 0 1 0 -3.01,0zM592.8,736.9a1.50,1.50 0 1 0 3.01,0a1.50,1.50 0 1 0 -3.01,0zM646.7,699.9a1.50,1.50 0 1 0 3.01,0a1.50,1.50 0 1 0 -3.01,0zM673.7,741.2a1.50,1.50 0 1 0 3.01,0a1.50,1.50 0 1 0 -3.01,0zM700.7,743.4a1.50,1.50 0 1 0 3.01,0a1.50,1.50 0 1 0 -3.01,0zM754.6,740.3a1.50,1.50 0 1 0 3.01,0a1.50,1.50 0 1 0 -3.01,0zM808.5,734.3a1.50,1.50 0 1 0 3.01,0a1.50,1.50 0 1 0 -3.01,0zM862.4,743.8a1.50,1.50 0 1 0 3.01,0a1.50,1.50 0 1 0 -3.01,0zM889.4,696a1.50,1.50 0 1 0 3.01,0a1.50,1.50 0 1 0 -3.01,0zM943.3,730.4a1.50,1.50 0 1 0 3.01,0a1.50,1.50 0 1 0 -3.01,0zM970.3,770.5a1.50,1.50 0 1 0 3.01,0a1.50,1.50 0 1 0 -3.01,0zM1024.2,743.8a1.50,1.50 0 1 0 3.01,0a1.50,1.50 0 1 0 -3.01,0zM1078.1,699.9a1.50,1.50 0 1 0 3.01,0a1.50,1.50 0 1 0 -3.01,0zM1105.1,662.2a1.50,1.50 0 1 0 3.01,0a1.50,1.50 0 1 0 -3.01,0zM1132,654.7a1.50,1.50 0 1 0 3.01,0a1.50,1.50 0 1 0 -3.01,0zM1159,720.1a1.50,1.50 0 1 0 3.01,0a1.50,1.50 0 1 0 -3.01,0zM1186,737.7a1.50,1.50 0 1 0 3.01,0a1.50,1.50 0 1 0 -3.01,0zM1239.9,743.8a1.50,1.50 0 1 0 3.01,0a1.50,1.50 0 1 0 -3.01,0zM1293.8,783.9a1.50,1.50 0 1 0 3.01,0a1.50,1.50 0 1 0 -3.01,0zM1347.7,743.9a1.50,1.50 0 1 0 3.01,0a1.50,1.50 0 1 0 -3.01,0zM1374.7,738.8a1.50,1.50 0 1 0 3.01,0a1.50,1.50 0 1 0 -3.01,0zM1428.6,745.8a1.50,1.50 0 1 0 3.01,0a1.50,1.50 0 1 0 -3.01,0zM1455.6,747.9a1.50,1.50 0 1 0 3.01,0a1.50,1.50 0 1 0 -3.01,0zM1509.5,763a1.50,1.50 0 1 0 3.01,0a1.50,1.50 0 1 0 -3.01,0zM1536.4,784.9a1.50,1.50 0 1 0 3.01,0a1.50,1.50 0 1 0 -3.01,0zM1563.4,768.8a1.50,1.50 0 1 0 3.01,0a1.50,1.50 0 1 0 -3.01,0zM1617.3,733.8a1.50,1.50 0 1 0 3.01,0a1.50,1.50 0 1 0 -3.01,0zM1644.3,760a1.50,1.50 0 1 0 3.01,0a1.50,1.50 0 1 0 -3.01,0zM1671.2,766a1.50,1.50 0 1 0 3.01,0a1.50,1.50 0 1 0 -3.01,0zM1698.2,756.9a1.50,1.50 0 1 0 3.01,0a1.50,1.50 0 1 0 -3.01,0z" fill="#3f3f3f"/>
<path d="M512,615.3h2.8M566,654.8h2.8M619.9,623.9h2.8M727.7,692h2.8M781.7,694.6h2.8M835.6,707h2.8M916.5,636.7h2.8M997.3,725.1h2.8M1051.3,635.7h2.8M1213,703.5h2.8M1266.9,725.9h2.8M1320.9,729h2.8M1401.7,695.7h2.8M1482.6,717.9h2.8M1590.5,718.7h2.8M1725.3,735h2.8" fill="none" stroke="#3f3f3f" stroke-width="1.3"/>
<path d="M503.3,800.9H516.8V617.7H503.3zM530.3,800.9H543.8V744.9H530.3zM557.3,800.9H570.8V657.4H557.3zM584.3,800.9H597.8V739.8H584.3zM611.3,800.9H624.8V626.4H611.3zM638.3,800.9H651.8V702.7H638.3zM665.3,800.9H678.8V744.1H665.3zM692.3,800.9H705.8V746.3H692.3zM719.3,800.9H732.8V694.6H719.3zM746.3,800.9H759.8V743.2H746.3zM773.3,800.9H786.8V697.2H773.3zM800.3,800.9H813.7V737.1H800.3zM827.2,800.9H840.7V709.6H827.2zM854.2,800.9H867.7V746.7H854.2zM881.2,800.9H894.7V698.8H881.2zM908.2,800.9H921.7V639.2H908.2zM935.2,800.9H948.7V733.2H935.2zM962.2,800.9H975.7V773.4H962.2zM989.2,800.9H1002.7V727.7H989.2zM1016.2,800.9H1029.7V746.7H1016.2zM1043.2,800.9H1056.7V638.2H1043.2zM1070.2,800.9H1083.7V702.7H1070.2zM1097.2,800.9H1110.7V664.9H1097.2zM1124.2,800.9H1137.7V657.5H1124.2zM1151.2,800.9H1164.7V722.9H1151.2zM1178.2,800.9H1191.7V740.6H1178.2zM1205.2,800.9H1218.7V706.1H1205.2zM1232.2,800.9H1245.7V746.7H1232.2zM1259.2,800.9H1272.7V728.5H1259.2zM1286.1,800.9H1299.6V786.8H1286.1zM1313.1,800.9H1326.6V731.6H1313.1zM1340.1,800.9H1353.6V746.8H1340.1zM1367.1,800.9H1380.6V741.7H1367.1zM1394.1,800.9H1407.6V698.3H1394.1zM1421.1,800.9H1434.6V748.7H1421.1zM1448.1,800.9H1461.6V750.8H1448.1zM1475.1,800.9H1488.6V720.5H1475.1zM1502.1,800.9H1515.6V765.8H1502.1zM1529.1,800.9H1542.6V787.8H1529.1zM1556.1,800.9H1569.6V771.7H1556.1zM1583.1,800.9H1596.6V721.3H1583.1zM1610.1,800.9H1623.6V736.6H1610.1zM1637.1,800.9H1650.6V762.8H1637.1zM1664.1,800.9H1677.6V768.9H1664.1zM1691.1,800.9H1704.6V759.7H1691.1zM1718.1,800.9H1731.6V737.6H1718.1z" fill="#f2864b"/>
<path d="M373.2,912.7L387.3,912.7L397.2,904.1L397.2,821.3L383.1,821.3L373.2,829.5zM401.5,912.7L415.6,912.7L425.4,904.1L425.4,823.3L411.3,823.3L401.5,831.5zM429.8,912.7L443.9,912.7L453.6,904.1L453.6,824.2L439.5,824.2L429.8,832.4zM458.1,912.7L472.2,912.7L481.8,904.1L481.8,827.9L467.7,827.9L458.1,836.2zM486.3,912.7L500.5,912.7L510,904.1L510,795.3L495.9,795.3L486.3,803.4zM514.6,912.7L528.8,912.7L538.2,904.1L538.2,830.3L524.1,830.3L514.6,838.6zM542.9,912.7L557.1,912.7L566.4,904.1L566.4,832.2L552.3,832.2L542.9,840.5zM571.2,912.7L585.4,912.7L594.6,904.1L594.6,832.5L580.5,832.5L571.2,840.8zM599.5,912.7L613.7,912.7L622.8,904.1L622.8,833.3L608.7,833.3L599.5,841.6zM627.8,912.7L642,912.7L651,904.1L651,830.3L636.9,830.3L627.8,838.6zM656.1,912.7L670.3,912.7L679.2,904.1L679.2,834L665.1,834L656.1,842.3zM684.4,912.7L698.6,912.7L707.3,904.1L707.3,835L693.2,835L684.4,843.3zM712.7,912.7L726.9,912.7L735.5,904.1L735.5,835.2L721.4,835.2L712.7,843.5zM741,912.7L755.2,912.7L763.7,904.1L763.7,837.9L749.6,837.9L741,846.2zM769.3,912.7L783.5,912.7L791.9,904.1L791.9,838.2L777.8,838.2L769.3,846.5zM797.6,912.7L811.7,912.7L820.1,904.1L820.1,841.4L806,841.4L797.6,849.7zM825.9,912.7L840,912.7L848.3,904.1L848.3,833.8L834.2,833.8L825.9,842.1zM854.2,912.7L868.3,912.7L876.5,904.1L876.5,842.1L862.4,842.1L854.2,850.4zM882.5,912.7L896.6,912.7L904.7,904.1L904.7,844L890.6,844L882.5,852.3zM910.8,912.7L924.9,912.7L932.9,904.1L932.9,847.2L918.8,847.2L910.8,855.5zM939.1,912.7L953.2,912.7L961.1,904.1L961.1,841.1L947,841.1L939.1,849.4zM967.4,912.7L981.5,912.7L989.3,904.1L989.3,849.1L975.2,849.1L967.4,857.4zM995.7,912.7L1009.8,912.7L1017.5,904.1L1017.5,850.1L1003.4,850.1L995.7,858.4zM1024,912.7L1038.1,912.7L1045.7,904.1L1045.7,850.3L1031.6,850.3L1024,858.6zM1052.3,912.7L1066.4,912.7L1073.9,904.1L1073.9,853.2L1059.8,853.2L1052.3,861.5zM1080.6,912.7L1094.7,912.7L1102.1,904.1L1102.1,860.8L1088,860.8L1080.6,869.2zM1108.9,912.7L1123,912.7L1130.3,904.1L1130.3,864.7L1116.2,864.7L1108.9,873.1zM1137.1,912.7L1151.3,912.7L1158.5,904.1L1158.5,866.2L1144.4,866.2L1137.1,874.6zM1165.4,912.7L1179.6,912.7L1186.7,904.1L1186.7,866.2L1172.6,866.2L1165.4,874.6zM1193.7,912.7L1207.9,912.7L1214.9,904.1L1214.9,867L1200.8,867L1193.7,875.4zM1222,912.7L1236.2,912.7L1243.1,904.1L1243.1,868.4L1229,868.4L1222,876.8zM1250.3,912.7L1264.5,912.7L1271.3,904.1L1271.3,870.1L1257.2,870.1L1250.3,878.5zM1278.6,912.7L1292.8,912.7L1299.5,904.1L1299.5,870.1L1285.4,870.1L1278.6,878.5zM1306.9,912.7L1321.1,912.7L1327.7,904.1L1327.7,871.1L1313.6,871.1L1306.9,879.5zM1335.2,912.7L1349.4,912.7L1355.9,904.1L1355.9,872.2L1341.8,872.2L1335.2,880.6zM1363.5,912.7L1377.7,912.7L1384.1,904.1L1384.1,872.2L1370,872.2L1363.5,880.6zM1391.8,912.7L1406,912.7L1412.3,904.1L1412.3,877L1398.2,877L1391.8,885.4zM1420.1,912.7L1434.3,912.7L1440.5,904.1L1440.5,877L1426.4,877L1420.1,885.4zM1448.4,912.7L1462.5,912.7L1468.7,904.1L1468.7,878.2L1454.6,878.2L1448.4,886.6zM1476.7,912.7L1490.8,912.7L1496.8,904.1L1496.8,881.3L1482.8,881.3L1476.7,889.7zM1505,912.7L1519.1,912.7L1525,904.1L1525,881.4L1510.9,881.4L1505,889.8zM1533.3,912.7L1547.4,912.7L1553.2,904.1L1553.2,884L1539.1,884L1533.3,892.5zM1561.6,912.7L1575.7,912.7L1581.4,904.1L1581.4,889.2L1567.3,889.2L1561.6,897.7zM1589.9,912.7L1604,912.7L1609.6,904.1L1609.6,891.2L1595.5,891.2L1589.9,899.7zM1618.2,912.7L1632.3,912.7L1637.8,904.1L1637.8,891.9L1623.7,891.9L1618.2,900.4zM1646.5,912.7L1660.6,912.7L1666,904.1L1666,901L1651.9,901L1646.5,909.5z" fill="#9a221e"/>
<path d="M387.3,912.7L397.2,904.1V821.3L387.3,829.5zM415.6,912.7L425.4,904.1V823.3L415.6,831.5zM443.9,912.7L453.6,904.1V824.2L443.9,832.4zM472.2,912.7L481.8,904.1V827.9L472.2,836.2zM500.5,912.7L510,904.1V795.3L500.5,803.4zM528.8,912.7L538.2,904.1V830.3L528.8,838.6zM557.1,912.7L566.4,904.1V832.2L557.1,840.5zM585.4,912.7L594.6,904.1V832.5L585.4,840.8zM613.7,912.7L622.8,904.1V833.3L613.7,841.6zM642,912.7L651,904.1V830.3L642,838.6zM670.3,912.7L679.2,904.1V834L670.3,842.3zM698.6,912.7L707.3,904.1V835L698.6,843.3zM726.9,912.7L735.5,904.1V835.2L726.9,843.5zM755.2,912.7L763.7,904.1V837.9L755.2,846.2zM783.5,912.7L791.9,904.1V838.2L783.5,846.5zM811.7,912.7L820.1,904.1V841.4L811.7,849.7zM840,912.7L848.3,904.1V833.8L840,842.1zM868.3,912.7L876.5,904.1V842.1L868.3,850.4zM896.6,912.7L904.7,904.1V844L896.6,852.3zM924.9,912.7L932.9,904.1V847.2L924.9,855.5zM953.2,912.7L961.1,904.1V841.1L953.2,849.4zM981.5,912.7L989.3,904.1V849.1L981.5,857.4zM1009.8,912.7L1017.5,904.1V850.1L1009.8,858.4zM1038.1,912.7L1045.7,904.1V850.3L1038.1,858.6zM1066.4,912.7L1073.9,904.1V853.2L1066.4,861.5zM1094.7,912.7L1102.1,904.1V860.8L1094.7,869.2zM1123,912.7L1130.3,904.1V864.7L1123,873.1zM1151.3,912.7L1158.5,904.1V866.2L1151.3,874.6zM1179.6,912.7L1186.7,904.1V866.2L1179.6,874.6zM1207.9,912.7L1214.9,904.1V867L1207.9,875.4zM1236.2,912.7L1243.1,904.1V868.4L1236.2,876.8zM1264.5,912.7L1271.3,904.1V870.1L1264.5,878.5zM1292.8,912.7L1299.5,904.1V870.1L1292.8,878.5zM1321.1,912.7L1327.7,904.1V871.1L1321.1,879.5zM1349.4,912.7L1355.9,904.1V872.2L1349.4,880.6zM1377.7,912.7L1384.1,904.1V872.2L1377.7,880.6zM1406,912.7L1412.3,904.1V877L1406,885.4zM1434.3,912.7L1440.5,904.1V877L1434.3,885.4zM1462.5,912.7L1468.7,904.1V878.2L1462.5,886.6zM1490.8,912.7L1496.8,904.1V881.3L1490.8,889.7zM1519.1,912.7L1525,904.1V881.4L1519.1,889.8zM1547.4,912.7L1553.2,904.1V884L1547.4,892.5zM1575.7,912.7L1581.4,904.1V889.2L1575.7,897.7zM1604,912.7L1609.6,904.1V891.2L1604,899.7zM1632.3,912.7L1637.8,904.1V891.9L1632.3,900.4zM1660.6,912.7L1666,904.1V901L1660.6,909.5z" fill="#8c201c"/>
<path d="M373.2,829.5H387.3L397.2,821.3H383.1zM401.5,831.5H415.6L425.4,823.3H411.3zM429.8,832.4H443.9L453.6,824.2H439.5zM458.1,836.2H472.2L481.8,827.9H467.7zM486.3,803.4H500.5L510,795.3H495.9zM514.6,838.6H528.8L538.2,830.3H524.1zM542.9,840.5H557.1L566.4,832.2H552.3zM571.2,840.8H585.4L594.6,832.5H580.5zM599.5,841.6H613.7L622.8,833.3H608.7zM627.8,838.6H642L651,830.3H636.9zM656.1,842.3H670.3L679.2,834H665.1zM684.4,843.3H698.6L707.3,835H693.2zM712.7,843.5H726.9L735.5,835.2H721.4zM741,846.2H755.2L763.7,837.9H749.6zM769.3,846.5H783.5L791.9,838.2H777.8zM797.6,849.7H811.7L820.1,841.4H806zM825.9,842.1H840L848.3,833.8H834.2zM854.2,850.4H868.3L876.5,842.1H862.4zM882.5,852.3H896.6L904.7,844H890.6zM910.8,855.5H924.9L932.9,847.2H918.8zM939.1,849.4H953.2L961.1,841.1H947zM967.4,857.4H981.5L989.3,849.1H975.2zM995.7,858.4H1009.8L1017.5,850.1H1003.4zM1024,858.6H1038.1L1045.7,850.3H1031.6zM1052.3,861.5H1066.4L1073.9,853.2H1059.8zM1080.6,869.2H1094.7L1102.1,860.8H1088zM1108.9,873.1H1123L1130.3,864.7H1116.2zM1137.1,874.6H1151.3L1158.5,866.2H1144.4zM1165.4,874.6H1179.6L1186.7,866.2H1172.6zM1193.7,875.4H1207.9L1214.9,867H1200.8zM1222,876.8H1236.2L1243.1,868.4H1229zM1250.3,878.5H1264.5L1271.3,870.1H1257.2zM1278.6,878.5H1292.8L1299.5,870.1H1285.4zM1306.9,879.5H1321.1L1327.7,871.1H1313.6zM1335.2,880.6H1349.4L1355.9,872.2H1341.8zM1363.5,880.6H1377.7L1384.1,872.2H1370zM1391.8,885.4H1406L1412.3,877H1398.2zM1420.1,885.4H1434.3L1440.5,877H1426.4zM1448.4,886.6H1462.5L1468.7,878.2H1454.6zM1476.7,889.7H1490.8L1496.8,881.3H1482.8zM1505,889.8H1519.1L1525,881.4H1510.9zM1533.3,892.5H1547.4L1553.2,884H1539.1zM1561.6,897.7H1575.7L1581.4,889.2H1567.3zM1589.9,899.7H1604L1609.6,891.2H1595.5zM1618.2,900.4H1632.3L1637.8,891.9H1623.7zM1646.5,909.5H1660.6L1666,901H1651.9z" fill="#a0241f"/>
<path d="M384.1,824.8L412.3,826.8L412.1,830L383.8,828zM412.3,826.8L440.5,827.7L440.4,830.9L412.2,830zM440.7,827.8L468.9,831.5L468.5,834.6L440.3,830.9zM467.5,832L489.9,806.1L489.9,811L469.9,834.1zM494.8,800.9L496,799.5L498,801.2L496.8,802.6zM498,799.6L499.1,801L497.1,802.6L496,801.2zM504.1,806.6L526.5,834.5L524,836.5L504.1,811.7zM525.4,833.9L553.6,835.8L553.4,839L525.1,837.1zM553.5,835.8L581.8,836.1L581.7,839.3L553.5,839zM581.8,836.1L610.1,836.9L610,840.1L581.7,839.3zM609.9,836.9L638.1,833.9L638.5,837.1L610.2,840.1zM638.5,833.9L666.8,837.6L666.3,840.8L638.1,837zM666.6,837.6L694.9,838.6L694.7,841.8L666.5,840.8zM694.8,838.6L723.1,838.8L723,842L694.8,841.8zM723.2,838.8L751.5,841.5L751.2,844.7L722.9,842zM751.3,841.5L779.6,841.8L779.6,845L751.3,844.7zM779.8,841.8L808,845L807.7,848.2L779.4,845zM807.4,845L835.7,837.4L836.5,840.5L808.3,848.1zM836.5,837.4L864.8,845.7L863.9,848.8L835.6,840.5zM864.5,845.7L892.7,847.6L892.5,850.8L864.2,848.9zM892.8,847.6L921,850.8L920.7,854L892.4,850.8zM920.5,850.8L948.8,844.7L949.5,847.9L921.2,854zM949.6,844.7L977.8,852.8L976.9,855.8L948.7,847.8zM977.4,852.7L1005.7,853.7L1005.6,856.9L977.3,855.9zM1005.7,853.7L1033.9,853.9L1033.9,857.1L1005.6,856.9zM1034.1,853.9L1062.3,856.8L1062,860L1033.7,857.1zM1062.6,856.9L1090.8,864.5L1090,867.6L1061.7,860zM1090.6,864.4L1118.9,868.3L1118.5,871.5L1090.2,867.6zM1118.8,868.3L1147,869.8L1146.9,873L1118.6,871.5zM1146.9,869.8L1175.2,869.8L1175.2,873L1146.9,873zM1175.2,869.8L1203.5,870.6L1203.4,873.8L1175.1,873zM1203.5,870.6L1231.8,872L1231.6,875.2L1203.4,873.8zM1231.8,872L1260.1,873.7L1259.9,876.9L1231.6,875.2zM1260,873.7L1288.2,873.7L1288.2,877L1260,877zM1288.3,873.7L1316.5,874.7L1316.4,878L1288.2,876.9zM1316.5,874.7L1344.8,875.8L1344.7,879.1L1316.4,878zM1344.7,875.8L1373,875.8L1373,879.1L1344.7,879.1zM1373.3,875.9L1401.5,880.7L1401,883.8L1372.7,879zM1401.3,880.7L1429.5,880.7L1429.5,883.9L1401.3,883.9zM1429.6,880.7L1457.8,881.9L1457.7,885.1L1429.5,883.9zM1458,881.9L1486.2,885L1485.9,888.2L1457.6,885.1zM1486,885L1514.3,885.1L1514.3,888.3L1486,888.2zM1514.4,885.1L1542.7,887.7L1542.4,890.9L1514.1,888.3zM1542.8,887.7L1571.1,892.9L1570.5,896.1L1542.3,890.9zM1570.9,892.9L1599.2,894.9L1599,898.1L1570.7,896.1zM1599.1,894.9L1627.4,895.6L1627.3,898.8L1599,898.1zM1627.8,895.7L1656.1,904.8L1655.1,907.8L1626.8,898.7z" fill="#3f3f3f"/>
<path d="M382.4,826.4a1.61,1.61 0 1 0 3.21,0a1.61,1.61 0 1 0 -3.21,0zM410.6,828.4a1.61,1.61 0 1 0 3.21,0a1.61,1.61 0 1 0 -3.21,0zM438.9,829.3a1.61,1.61 0 1 0 3.21,0a1.61,1.61 0 1 0 -3.21,0zM467.1,833.1a1.61,1.61 0 1 0 3.21,0a1.61,1.61 0 1 0 -3.21,0zM523.6,835.5a1.61,1.61 0 1 0 3.21,0a1.61,1.61 0 1 0 -3.21,0zM551.9,837.4a1.61,1.61 0 1 0 3.21,0a1.61,1.61 0 1 0 -3.21,0zM580.2,837.7a1.61,1.61 0 1 0 3.21,0a1.61,1.61 0 1 0 -3.21,0zM608.4,838.5a1.61,1.61 0 1 0 3.21,0a1.61,1.61 0 1 0 -3.21,0zM636.7,835.5a1.61,1.61 0 1 0 3.21,0a1.61,1.61 0 1 0 -3.21,0zM664.9,839.2a1.61,1.61 0 1 0 3.21,0a1.61,1.61 0 1 0 -3.21,0zM693.2,840.2a1.61,1.61 0 1 0 3.21,0a1.61,1.61 0 1 0 -3.21,0zM721.5,840.4a1.61,1.61 0 1 0 3.21,0a1.61,1.61 0 1 0 -3.21,0zM749.7,843.1a1.61,1.61 0 1 0 3.21,0a1.61,1.61 0 1 0 -3.21,0zM778,843.4a1.61,1.61 0 1 0 3.21,0a1.61,1.61 0 1 0 -3.21,0zM806.2,846.6a1.61,1.61 0 1 0 3.21,0a1.61,1.61 0 1 0 -3.21,0zM834.5,839a1.61,1.61 0 1 0 3.21,0a1.61,1.61 0 1 0 -3.21,0zM862.7,847.3a1.61,1.61 0 1 0 3.21,0a1.61,1.61 0 1 0 -3.21,0zM891,849.2a1.61,1.61 0 1 0 3.21,0a1.61,1.61 0 1 0 -3.21,0zM919.3,852.4a1.61,1.61 0 1 0 3.21,0a1.61,1.61 0 1 0 -3.21,0zM947.5,846.3a1.61,1.61 0 1 0 3.21,0a1.61,1.61 0 1 0 -3.21,0zM975.8,854.3a1.61,1.61 0 1 0 3.21,0a1.61,1.61 0 1 0 -3.21,0zM1004,855.3a1.61,1.61 0 1 0 3.21,0a1.61,1.61 0 1 0 -3.21,0zM1032.3,855.5a1.61,1.61 0 1 0 3.21,0a1.61,1.61 0 1 0 -3.21,0zM1060.6,858.4a1.61,1.61 0 1 0 3.21,0a1.61,1.61 0 1 0 -3.21,0zM1088.8,866a1.61,1.61 0 1 0 3.21,0a1.61,1.61 0 1 0 -3.21,0zM1117.1,869.9a1.61,1.61 0 1 0 3.21,0a1.61,1.61 0 1 0 -3.21,0zM1145.3,871.4a1.61,1.61 0 1 0 3.21,0a1.61,1.61 0 1 0 -3.21,0zM1173.6,871.4a1.61,1.61 0 1 0 3.21,0a1.61,1.61 0 1 0 -3.21,0zM1201.8,872.2a1.61,1.61 0 1 0 3.21,0a1.61,1.61 0 1 0 -3.21,0zM1230.1,873.6a1.61,1.61 0 1 0 3.21,0a1.61,1.61 0 1 0 -3.21,0zM1258.4,875.3a1.61,1.61 0 1 0 3.21,0a1.61,1.61 0 1 0 -3.21,0zM1286.6,875.3a1.61,1.61 0 1 0 3.21,0a1.61,1.61 0 1 0 -3.21,0zM1314.9,876.3a1.61,1.61 0 1 0 3.21,0a1.61,1.61 0 1 0 -3.21,0zM1343.1,877.4a1.61,1.61 0 1 0 3.21,0a1.61,1.61 0 1 0 -3.21,0zM1371.4,877.4a1.61,1.61 0 1 0 3.21,0a1.61,1.61 0 1 0 -3.21,0zM1399.7,882.3a1.61,1.61 0 1 0 3.21,0a1.61,1.61 0 1 0 -3.21,0zM1427.9,882.3a1.61,1.61 0 1 0 3.21,0a1.61,1.61 0 1 0 -3.21,0zM1456.2,883.5a1.61,1.61 0 1 0 3.21,0a1.61,1.61 0 1 0 -3.21,0zM1484.4,886.6a1.61,1.61 0 1 0 3.21,0a1.61,1.61 0 1 0 -3.21,0zM1512.7,886.7a1.61,1.61 0 1 0 3.21,0a1.61,1.61 0 1 0 -3.21,0zM1540.9,889.3a1.61,1.61 0 1 0 3.21,0a1.61,1.61 0 1 0 -3.21,0zM1569.2,894.5a1.61,1.61 0 1 0 3.21,0a1.61,1.61 0 1 0 -3.21,0zM1597.5,896.5a1.61,1.61 0 1 0 3.21,0a1.61,1.61 0 1 0 -3.21,0zM1625.7,897.2a1.61,1.61 0 1 0 3.21,0a1.61,1.61 0 1 0 -3.21,0zM1654,906.3a1.61,1.61 0 1 0 3.21,0a1.61,1.61 0 1 0 -3.21,0z" fill="#3f3f3f"/>
<path d="M495.6,800.6h2.8" fill="none" stroke="#3f3f3f" stroke-width="1.3"/>
<path d="M373.2,912.7H387.3V829.5H373.2zM401.5,912.7H415.6V831.5H401.5zM429.8,912.7H443.9V832.4H429.8zM458.1,912.7H472.2V836.2H458.1zM486.3,912.7H500.5V803.4H486.3zM514.6,912.7H528.8V838.6H514.6zM542.9,912.7H557.1V840.5H542.9zM571.2,912.7H585.4V840.8H571.2zM599.5,912.7H613.7V841.6H599.5zM627.8,912.7H642V838.6H627.8zM656.1,912.7H670.3V842.3H656.1zM684.4,912.7H698.6V843.3H684.4zM712.7,912.7H726.9V843.5H712.7zM741,912.7H755.2V846.2H741zM769.3,912.7H783.5V846.5H769.3zM797.6,912.7H811.7V849.7H797.6zM825.9,912.7H840V842.1H825.9zM854.2,912.7H868.3V850.4H854.2zM882.5,912.7H896.6V852.3H882.5zM910.8,912.7H924.9V855.5H910.8zM939.1,912.7H953.2V849.4H939.1zM967.4,912.7H981.5V857.4H967.4zM995.7,912.7H1009.8V858.4H995.7zM1024,912.7H1038.1V858.6H1024zM1052.3,912.7H1066.4V861.5H1052.3zM1080.6,912.7H1094.7V869.2H1080.6zM1108.9,912.7H1123V873.1H1108.9zM1137.1,912.7H1151.3V874.6H1137.1zM1165.4,912.7H1179.6V874.6H1165.4zM1193.7,912.7H1207.9V875.4H1193.7zM1222,912.7H1236.2V876.8H1222zM1250.3,912.7H1264.5V878.5H1250.3zM1278.6,912.7H1292.8V878.5H1278.6zM1306.9,912.7H1321.1V879.5H1306.9zM1335.2,912.7H1349.4V880.6H1335.2zM1363.5,912.7H1377.7V880.6H1363.5zM1391.8,912.7H1406V885.4H1391.8zM1420.1,912.7H1434.3V885.4H1420.1zM1448.4,912.7H1462.5V886.6H1448.4zM1476.7,912.7H1490.8V889.7H1476.7zM1505,912.7H1519.1V889.8H1505zM1533.3,912.7H1547.4V892.5H1533.3zM1561.6,912.7H1575.7V897.7H1561.6zM1589.9,912.7H1604V899.7H1589.9zM1618.2,912.7H1632.3V900.4H1618.2zM1646.5,912.7H1660.6V909.5H1646.5z" fill="#9a221e"/>
<path d="M261.4,968.5H1659.1M286.4,402V993.5" fill="none" stroke="#000" stroke-width="4.6" stroke-linecap="round"/>
<path d="M274.2,921.3H286.4M261.4,874.1H286.4M274.2,826.9H286.4M261.4,779.7H286.4M274.2,732.5H286.4M261.4,685.2H286.4M274.2,638H286.4M261.4,590.8H286.4M274.2,543.6H286.4M261.4,496.4H286.4M274.2,449.2H286.4M261.4,402H286.4M431.2,968.5V980.7M575.9,968.5V993.5M720.6,968.5V980.7M865.4,968.5V993.5M1010.1,968.5V980.7M1154.8,968.5V993.5M1299.6,968.5V980.7M1444.3,968.5V993.5M1589,968.5V980.7" fill="none" stroke="#000" stroke-width="4.3" stroke-linecap="round"/>
<path d="M1645,967.3L1952.7,475.9L1956.3,478.1L1648.8,969.7z" fill="#000"/>
<path d="M1954.5,477h9.8" fill="none" stroke="#000" stroke-width="3.4" stroke-linecap="round"/>
<path d="M1929.6,516.8h20.5" fill="none" stroke="#000" stroke-width="3.5" stroke-linecap="round"/>
<path d="M1876.1,602.3h21.3" fill="none" stroke="#000" stroke-width="3.7" stroke-linecap="round"/>
<path d="M1817.9,695.2h22.3" fill="none" stroke="#000" stroke-width="3.8" stroke-linecap="round"/>
<path d="M1754.2,797h23.3" fill="none" stroke="#000" stroke-width="4" stroke-linecap="round"/>
<path d="M1684.5,908.4h24.4" fill="none" stroke="#000" stroke-width="4.2" stroke-linecap="round"/>
<path d="M1903.4,558.7h10.2" fill="none" stroke="#000" stroke-width="3.6" stroke-linecap="round"/>
<path d="M1847.6,647.8h10.6" fill="none" stroke="#000" stroke-width="3.7" stroke-linecap="round"/>
<path d="M1786.8,745h11.1" fill="none" stroke="#000" stroke-width="3.9" stroke-linecap="round"/>
<path d="M1720.2,851.4h11.6" fill="none" stroke="#000" stroke-width="4.1" stroke-linecap="round"/>
<g font-family="'Liberation Serif','Times New Roman',serif" font-weight="bold" fill="#000">
<text x="245.5" y="988.1" font-size="56.5" text-anchor="end">0.000</text>
<text x="245.5" y="893.7" font-size="56.5" text-anchor="end">0.002</text>
<text x="245.5" y="799.3" font-size="56.5" text-anchor="end">0.004</text>
<text x="245.5" y="704.9" font-size="56.5" text-anchor="end">0.006</text>
<text x="245.5" y="610.4" font-size="56.5" text-anchor="end">0.008</text>
<text x="245.5" y="516" font-size="56.5" text-anchor="end">0.010</text>
<text x="245.5" y="421.6" font-size="56.5" text-anchor="end">0.012</text>
<text x="286.4" y="1058" font-size="56.5" text-anchor="middle">50</text>
<text x="575.9" y="1058" font-size="56.5" text-anchor="middle">60</text>
<text x="865.4" y="1058" font-size="56.5" text-anchor="middle">70</text>
<text x="1154.8" y="1058" font-size="56.5" text-anchor="middle">80</text>
<text x="1444.3" y="1058" font-size="56.5" text-anchor="middle">90</text>
<text x="1962.8" y="537.5" font-size="56.2">Original errors</text>
<text x="1912.5" y="622.4" font-size="57.7">BP</text>
<text x="1855" y="716.7" font-size="60.9">RIME-BP</text>
<text x="1792.4" y="819.5" font-size="63.7">NRBO-BP</text>
<text x="1727.2" y="932" font-size="66.3">Proposed algorithm</text>
<text x="966" y="1138" font-size="68.3" text-anchor="middle">Number of missions</text>
<text transform="translate(73.3,591.5) rotate(-90)" font-size="68.3" text-anchor="middle">Errors of the camera LOS (rad)</text>
</g>
</svg>
</body>
</html>
